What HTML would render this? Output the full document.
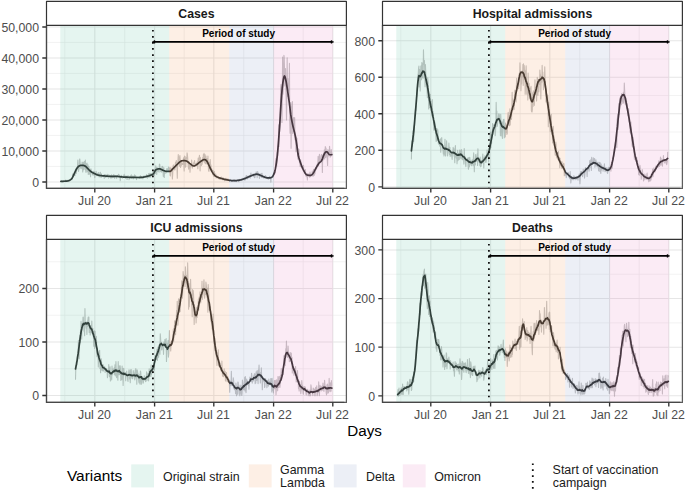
<!DOCTYPE html>
<html><head><meta charset="utf-8"><style>
html,body{margin:0;padding:0;background:#fff;width:685px;height:492px;overflow:hidden}
svg{display:block;font-family:"Liberation Sans",sans-serif}
</style></head><body>
<svg width="685" height="492" viewBox="0 0 685 492">
<rect width="685" height="492" fill="#fff"/>
<clipPath id="c00"><rect x="46.5" y="25.3" width="299.9" height="163.1"/></clipPath>
<rect x="46.5" y="25.3" width="299.9" height="163.1" fill="#fff"/>
<path d="M46.5,166.45H346.4M46.5,135.45H346.4M46.5,104.45H346.4M46.5,73.45H346.4M46.5,42.45H346.4M64.8,25.3V188.4M124.7,25.3V188.4M184.2,25.3V188.4M243.7,25.3V188.4M303.2,25.3V188.4" stroke="#ebebeb" stroke-width="0.6" fill="none"/>
<path d="M46.5,181.95H346.4M46.5,150.95H346.4M46.5,119.95H346.4M46.5,88.95H346.4M46.5,57.95H346.4M46.5,26.95H346.4M94.8,25.3V188.4M154.6,25.3V188.4M213.8,25.3V188.4M273.6,25.3V188.4M332.8,25.3V188.4" stroke="#e6e6e6" stroke-width="1.1" fill="none"/>
<g clip-path="url(#c00)">
<path d="M60.9,181.6 61.23,181.48 61.55,181 61.88,180.77 62.2,181.19 62.53,181.21 62.86,181.33 63.18,181.89 63.51,180.64 63.83,181.07 64.16,181.13 64.49,181.42 64.81,181.42 65.14,181.04 65.46,181.6 65.79,179.96 66.12,180.43 66.44,181.26 66.77,181.23 67.09,181 67.42,180.83 67.75,181 68.07,180.02 68.4,180.39 68.72,180.36 69.05,180.16 69.38,180.31 69.7,180.82 70.03,179.99 70.35,179.14 70.68,179.72 71.01,179.22 71.33,178.99 71.66,178.57 71.98,179.62 72.31,177.5 72.64,173.93 72.96,174.23 73.29,177.03 73.62,175.16 73.94,175.5 74.27,174.85 74.59,173.49 74.92,175.81 75.25,171.08 75.57,169.08 75.9,170.07 76.22,173.41 76.55,170.09 76.88,167.79 77.2,167.5 77.53,165.97 77.85,160.02 78.18,168.78 78.51,171.44 78.83,169.37 79.16,168.79 79.48,159.66 79.81,158.93 80.14,162.48 80.46,167.21 80.79,168.16 81.11,168.78 81.44,168.1 81.77,167.1 82.09,162.17 82.42,166.35 82.74,172.07 83.07,162.61 83.4,169.9 83.72,168.08 84.05,162.05 84.37,161.53 84.7,164.55 85.03,169.5 85.35,159.96 85.68,170.67 86,172.41 86.33,163.87 86.66,164.69 86.98,163.07 87.31,171.79 87.63,168.03 87.96,164.73 88.29,174.55 88.61,166.52 88.94,166.52 89.26,173.82 89.59,173.94 89.92,174.46 90.24,169.84 90.57,176.61 90.89,168.72 91.22,169.83 91.55,171.15 91.87,173.16 92.2,172.57 92.52,174.74 92.85,173.93 93.18,175.27 93.5,171.57 93.83,171.27 94.15,173.65 94.48,172.15 94.81,177.59 95.13,174.29 95.46,173.72 95.78,173.54 96.11,171.37 96.44,175.11 96.76,174.08 97.09,175.83 97.42,173.91 97.74,173.22 98.07,173.97 98.39,172.64 98.72,175.59 99.05,176.88 99.37,176.75 99.7,175.51 100.02,172.99 100.35,172.2 100.68,174.01 101,177.45 101.33,173.9 101.65,176.87 101.98,176.57 102.31,175.22 102.63,175.49 102.96,176.51 103.28,175.32 103.61,176.17 103.94,175.07 104.26,178.41 104.59,174.53 104.91,176.78 105.24,174.53 105.57,177.23 105.89,177.51 106.22,176.85 106.54,175.89 106.87,175.1 107.2,174.25 107.52,176.97 107.85,175.36 108.17,175.11 108.5,178.23 108.83,174.88 109.15,175.69 109.48,175.95 109.8,175.41 110.13,176.47 110.46,176.09 110.78,178.24 111.11,176.06 111.43,174.89 111.76,177.91 112.09,176.28 112.41,177.63 112.74,176.95 113.06,175.42 113.39,177.37 113.72,174.45 114.04,175.19 114.37,176.04 114.69,178.45 115.02,175.67 115.35,175.46 115.67,175.91 116,175.99 116.32,175.86 116.65,178.35 116.98,176.15 117.3,175.52 117.63,176.53 117.95,175.69 118.28,174.9 118.61,174.22 118.93,174.68 119.26,176.37 119.58,177.44 119.91,175.94 120.24,180.63 120.56,178.19 120.89,176.66 121.22,175.26 121.54,175.59 121.87,177.51 122.19,176.45 122.52,178.11 122.85,176.29 123.17,176.68 123.5,175.85 123.82,176.6 124.15,174.36 124.48,177.26 124.8,175.93 125.13,175.78 125.45,177.77 125.78,178.49 126.11,177.1 126.43,177.01 126.76,176.03 127.08,179.5 127.41,178.24 127.74,176.05 128.06,175.75 128.39,178.03 128.71,176.37 129.04,179.69 129.37,178.55 129.69,177.13 130.02,176.86 130.34,175.94 130.67,177.69 131,177.7 131.32,174.85 131.65,178.2 131.97,177.27 132.3,176.89 132.63,177.16 132.95,175.73 133.28,178.86 133.6,177.06 133.93,177.68 134.26,177.81 134.58,174.76 134.91,176.44 135.23,175.54 135.56,175.98 135.89,176.04 136.21,178.66 136.54,179.6 136.86,176.57 137.19,177.31 137.52,177.25 137.84,176.97 138.17,177.84 138.49,176.91 138.82,176.75 139.15,177.85 139.47,178.34 139.8,178.33 140.12,177.34 140.45,175.73 140.78,178.07 141.1,177.78 141.43,176.63 141.75,176.97 142.08,178.1 142.41,178.16 142.73,178.69 143.06,178.6 143.38,177.53 143.71,176.1 144.04,176.28 144.36,176.67 144.69,175.95 145.02,176.63 145.34,176.57 145.67,176.38 145.99,176.74 146.32,177.04 146.65,174.54 146.97,175.67 147.3,178.29 147.62,177.39 147.95,176.08 148.28,176.65 148.6,173.53 148.93,177.4 149.25,174.99 149.58,174.65 149.91,173.21 150.23,177.21 150.56,175.55 150.88,174.22 151.21,173.58 151.54,173.97 151.86,173.97 152.19,176.94 152.51,172.73 152.84,175.76 153.17,174.57 153.49,172.07 153.82,172.63 154.14,171.23 154.47,175.27 154.8,169.32 155.12,169.96 155.45,173.4 155.77,165.75 156.1,169.88 156.43,170.02 156.75,174.34 157.08,167.21 157.4,170.38 157.73,171.3 158.06,168.52 158.38,170.91 158.71,169.01 159.03,172.12 159.36,164.42 159.69,164.05 160.01,166.96 160.34,169.64 160.66,171.65 160.99,170.65 161.32,171.37 161.64,172.12 161.97,166.5 162.29,169.33 162.62,166.29 162.95,167.9 163.27,176.34 163.6,173.74 163.92,167.81 164.25,177.39 164.58,170.44 164.9,172.03 165.23,173.03 165.55,171.93 165.88,173.1 166.21,170.96 166.53,170.75 166.86,168.64 167.18,168.93 167.51,168.92 167.84,170.31 168.16,171.45 168.49,167.06 168.82,171.02 169.14,170.49 169.47,170.88 169.79,167.6 170.12,175.32 170.45,176.03 170.77,167.73 171.1,168.41 171.42,171.2 171.75,169.16 172.08,172.05 172.4,179.02 172.73,173.48 173.05,166.33 173.38,164.93 173.71,166.89 174.03,167.1 174.36,167.52 174.68,170 175.01,169.86 175.34,163.35 175.66,162.07 175.99,166.61 176.31,160.6 176.64,166.88 176.97,166.68 177.29,178.14 177.62,162.83 177.94,160.9 178.27,154.61 178.6,160.4 178.92,156.81 179.25,165.29 179.57,166.19 179.9,155.66 180.23,160.03 180.55,167.42 180.88,160.42 181.2,166.03 181.53,162.35 181.86,163.41 182.18,163.82 182.51,164.58 182.83,163.24 183.16,164.11 183.49,157.72 183.81,162.85 184.14,171.07 184.46,156.14 184.79,161.78 185.12,156.5 185.44,167.1 185.77,166.54 186.09,159.85 186.42,157.32 186.75,159.14 187.07,152.8 187.4,154.53 187.72,158.32 188.05,163.5 188.38,167.5 188.7,169.14 189.03,161.62 189.35,164.76 189.68,163.35 190.01,172.29 190.33,165.3 190.66,166.86 190.98,165.78 191.31,164.22 191.64,160.02 191.96,164.87 192.29,168.13 192.62,165.37 192.94,165.34 193.27,163.86 193.59,164.07 193.92,162.06 194.25,162.93 194.57,160.66 194.9,165.73 195.22,163.54 195.55,164.63 195.88,163.77 196.2,164.02 196.53,165.8 196.85,163.79 197.18,162.22 197.51,161.68 197.83,168.61 198.16,158.05 198.48,163.45 198.81,158.21 199.14,157.91 199.46,155.39 199.79,159.3 200.11,170.85 200.44,157.59 200.77,163.87 201.09,163.61 201.42,165.59 201.74,161.36 202.07,164.53 202.4,161.8 202.72,157.58 203.05,161.78 203.37,154.49 203.7,156.67 204.03,153.22 204.35,160.31 204.68,162.79 205,154.56 205.33,163.64 205.66,159.26 205.98,155.93 206.31,163.96 206.63,161.55 206.96,158.6 207.29,163.37 207.61,162.81 207.94,156.01 208.26,165.75 208.59,170.59 208.92,171.36 209.24,168.08 209.57,162.03 209.89,167.58 210.22,159.5 210.55,167.5 210.87,164.73 211.2,168.38 211.52,168.57 211.85,169.34 212.18,170.23 212.5,173.66 212.83,174.77 213.15,170.5 213.48,173.34 213.81,176.4 214.13,175.8 214.46,171.66 214.78,176.48 215.11,174.57 215.44,175.44 215.76,173.92 216.09,178 216.42,176.76 216.74,175.81 217.07,176.74 217.39,176.71 217.72,176.32 218.05,177.48 218.37,178.65 218.7,178.24 219.02,177.74 219.35,178.75 219.68,177.69 220,179.55 220.33,178.79 220.65,178.55 220.98,177.46 221.31,176.99 221.63,178.34 221.96,178.36 222.28,178.78 222.61,177.75 222.94,179.96 223.26,177.79 223.59,179.58 223.91,179.56 224.24,179.4 224.57,180.77 224.89,179.67 225.22,180.54 225.54,178.31 225.87,179.31 226.2,180.06 226.52,179.8 226.85,178.42 227.17,179.28 227.5,180.41 227.83,179.89 228.15,178.95 228.48,179.95 228.8,180.16 229.13,180.63 229.46,181.25 229.78,180.24 230.11,179.39 230.43,179.63 230.76,180.53 231.09,180.48 231.41,181.21 231.74,180.19 232.06,181.5 232.39,181.02 232.72,180.75 233.04,180.68 233.37,180.27 233.69,180.02 234.02,180.71 234.35,181.03 234.67,179.83 235,181.39 235.32,180.99 235.65,180.59 235.98,181 236.3,181.56 236.63,180.86 236.95,180.29 237.28,179.65 237.61,180.47 237.93,180.57 238.26,179.51 238.58,179.77 238.91,181.76 239.24,180.57 239.56,180.47 239.89,179.48 240.22,179.24 240.54,180.21 240.87,180.5 241.19,180.48 241.52,178.94 241.85,179.99 242.17,179.3 242.5,178.33 242.82,179.93 243.15,179.54 243.48,179.67 243.8,178.38 244.13,178.04 244.45,179.55 244.78,180.19 245.11,178.55 245.43,179.73 245.76,179.52 246.08,175.7 246.41,176.99 246.74,175.54 247.06,177.45 247.39,178.84 247.71,177.24 248.04,178.31 248.37,176.32 248.69,177.48 249.02,176.61 249.34,177.38 249.67,175.79 250,176.97 250.32,178.09 250.65,173.94 250.97,173.01 251.3,175.9 251.63,175 251.95,175.43 252.28,175.47 252.6,174.42 252.93,174.37 253.26,173.73 253.58,176.41 253.91,176.74 254.23,174.83 254.56,177.77 254.89,177.73 255.21,173.63 255.54,174.84 255.86,175.25 256.19,171.86 256.52,173.24 256.84,173.78 257.17,177.69 257.49,171.6 257.82,171.88 258.15,175.55 258.47,174.36 258.8,173.88 259.12,173.8 259.45,178.53 259.78,174.63 260.1,175.43 260.43,176.02 260.75,174.03 261.08,173.41 261.41,177.41 261.73,175.88 262.06,173.21 262.38,177.35 262.71,177.38 263.04,177.15 263.36,176.99 263.69,176.48 264.02,178.5 264.34,177.07 264.67,176.35 264.99,177.09 265.32,175.55 265.65,177.56 265.97,176.34 266.3,178.27 266.62,177.92 266.95,178.28 267.28,177.43 267.6,178.69 267.93,177.33 268.25,179.19 268.58,179.07 268.91,178.32 269.23,177.94 269.56,176.41 269.88,177.47 270.21,178.81 270.54,177.28 270.86,182.25 271.19,177.25 271.51,177.46 271.84,177.7 272.17,177.23 272.49,177.05 272.82,176.66 273.14,177.21 273.47,173.48 273.8,172.82 274.12,172.14 274.45,174.59 274.77,170.95 275.1,170.97 275.43,172.9 275.75,159.29 276.08,158.37 276.4,165.43 276.73,165.98 277.06,152.58 277.38,152.08 277.71,155.54 278.03,146 278.36,145.41 278.69,124.78 279.01,146.5 279.34,125.48 279.66,131.63 279.99,127.75 280.32,115.2 280.64,89.19 280.97,84.5 281.29,102.39 281.62,101.6 281.95,122.5 282.27,98.78 282.6,56.93 282.92,94.28 283.25,88.9 283.58,75.64 283.9,55.42 284.23,57.66 284.55,71.38 284.88,86.06 285.21,73.58 285.53,68.58 285.86,87.63 286.18,99.03 286.51,120 286.84,96.82 287.16,57.69 287.49,96.56 287.82,78.41 288.14,85.8 288.47,90.84 288.79,83.42 289.12,88.38 289.45,63.41 289.77,122.2 290.1,133.23 290.42,124.15 290.75,102.48 291.08,148.28 291.4,124.29 291.73,107.29 292.05,106.05 292.38,101.63 292.71,133.7 293.03,129.82 293.36,117.68 293.68,131.43 294.01,117.59 294.34,127.11 294.66,117.78 294.99,139.62 295.31,134.43 295.64,135.57 295.97,151.73 296.29,137.04 296.62,138.95 296.94,138.54 297.27,145.35 297.6,155.41 297.92,158.97 298.25,148.75 298.57,156.08 298.9,149.18 299.23,158.65 299.55,163.23 299.88,163.6 300.2,166.62 300.53,159.68 300.86,161.89 301.18,166.34 301.51,165.05 301.83,167.19 302.16,168.21 302.49,167.2 302.81,167.22 303.14,168.4 303.46,165.28 303.79,170.59 304.12,169.52 304.44,171.2 304.77,172.21 305.09,172.99 305.42,169.46 305.75,175.98 306.07,174.1 306.4,174.74 306.72,177 307.05,175.01 307.38,179.96 307.7,173.54 308.03,176.38 308.35,174.17 308.68,174.58 309.01,174.04 309.33,176.81 309.66,177.19 309.98,172.16 310.31,176.72 310.64,174.1 310.96,173.91 311.29,175.93 311.62,175.75 311.94,174.52 312.27,171.14 312.59,176.02 312.92,173.29 313.25,176.3 313.57,169.34 313.9,172.23 314.22,175.33 314.55,172.55 314.88,173.98 315.2,170.46 315.53,167.6 315.85,169.61 316.18,169.13 316.51,168.73 316.83,167.64 317.16,164.17 317.48,164.95 317.81,163.3 318.14,156.22 318.46,165.88 318.79,161.57 319.11,160.17 319.44,154.35 319.77,160.58 320.09,162.7 320.42,159.74 320.74,159.71 321.07,155.65 321.4,154.75 321.72,154.47 322.05,155.26 322.37,172.54 322.7,155.38 323.03,160.23 323.35,158.68 323.68,152.91 324,157.6 324.33,149.79 324.66,159.05 324.98,152.25 325.31,146.46 325.63,157.55 325.96,147.94 326.29,150.65 326.61,155.06 326.94,156.81 327.26,158.74 327.59,165.48 327.92,149.6 328.24,153.36 328.57,155.89 328.89,150.73 329.22,153.03 329.55,146.38 329.87,151.48 330.2,157.13 330.52,154.69 330.85,156.4 331.18,149.43 331.5,152.09 331.83,154.61" stroke="#999" stroke-opacity="0.6" stroke-width="1.1" fill="none" stroke-linejoin="round"/>
<path d="M60.9,181.3 61.23,181.3 61.55,181.29 61.88,181.29 62.2,181.29 62.53,181.29 62.86,181.29 63.18,181.28 63.51,181.27 63.83,181.26 64.16,181.25 64.49,181.24 64.81,181.21 65.14,181.19 65.46,181.16 65.79,181.14 66.12,181.12 66.44,181.1 66.77,181.07 67.09,181.04 67.42,181 67.75,180.95 68.07,180.89 68.4,180.81 68.72,180.71 69.05,180.58 69.38,180.43 69.7,180.27 70.03,180.1 70.35,179.9 70.68,179.66 71.01,179.38 71.33,179.04 71.66,178.66 71.98,178.22 72.31,177.71 72.64,177.12 72.96,176.47 73.29,175.77 73.62,175.04 73.94,174.3 74.27,173.56 74.59,172.84 74.92,172.16 75.25,171.52 75.57,170.87 75.9,170.23 76.22,169.59 76.55,168.99 76.88,168.42 77.2,167.91 77.53,167.47 77.85,167.08 78.18,166.74 78.51,166.45 78.83,166.2 79.16,166 79.48,165.82 79.81,165.68 80.14,165.55 80.46,165.46 80.79,165.4 81.11,165.35 81.44,165.33 81.77,165.32 82.09,165.33 82.42,165.34 82.74,165.37 83.07,165.41 83.4,165.46 83.72,165.52 84.05,165.61 84.37,165.72 84.7,165.85 85.03,166.01 85.35,166.2 85.68,166.43 86,166.71 86.33,167.02 86.66,167.36 86.98,167.72 87.31,168.08 87.63,168.43 87.96,168.76 88.29,169.08 88.61,169.41 88.94,169.75 89.26,170.08 89.59,170.4 89.92,170.71 90.24,171 90.57,171.27 90.89,171.52 91.22,171.75 91.55,171.97 91.87,172.17 92.2,172.36 92.52,172.55 92.85,172.72 93.18,172.9 93.5,173.06 93.83,173.23 94.15,173.39 94.48,173.55 94.81,173.71 95.13,173.87 95.46,174.03 95.78,174.19 96.11,174.36 96.44,174.51 96.76,174.66 97.09,174.79 97.42,174.91 97.74,175.01 98.07,175.1 98.39,175.17 98.72,175.24 99.05,175.31 99.37,175.37 99.7,175.42 100.02,175.47 100.35,175.51 100.68,175.56 101,175.6 101.33,175.64 101.65,175.67 101.98,175.71 102.31,175.74 102.63,175.78 102.96,175.81 103.28,175.84 103.61,175.87 103.94,175.9 104.26,175.93 104.59,175.96 104.91,175.99 105.24,176.02 105.57,176.05 105.89,176.08 106.22,176.1 106.54,176.13 106.87,176.15 107.2,176.17 107.52,176.19 107.85,176.22 108.17,176.23 108.5,176.25 108.83,176.27 109.15,176.29 109.48,176.31 109.8,176.32 110.13,176.34 110.46,176.35 110.78,176.37 111.11,176.38 111.43,176.39 111.76,176.4 112.09,176.41 112.41,176.41 112.74,176.42 113.06,176.41 113.39,176.41 113.72,176.4 114.04,176.4 114.37,176.39 114.69,176.38 115.02,176.37 115.35,176.37 115.67,176.37 116,176.37 116.32,176.37 116.65,176.38 116.98,176.4 117.3,176.42 117.63,176.45 117.95,176.47 118.28,176.51 118.61,176.55 118.93,176.59 119.26,176.63 119.58,176.67 119.91,176.71 120.24,176.76 120.56,176.8 120.89,176.84 121.22,176.87 121.54,176.91 121.87,176.94 122.19,176.97 122.52,176.99 122.85,177.02 123.17,177.04 123.5,177.06 123.82,177.07 124.15,177.09 124.48,177.11 124.8,177.12 125.13,177.13 125.45,177.15 125.78,177.16 126.11,177.17 126.43,177.18 126.76,177.2 127.08,177.21 127.41,177.22 127.74,177.23 128.06,177.24 128.39,177.25 128.71,177.26 129.04,177.27 129.37,177.28 129.69,177.29 130.02,177.3 130.34,177.31 130.67,177.32 131,177.33 131.32,177.34 131.65,177.36 131.97,177.37 132.3,177.38 132.63,177.39 132.95,177.4 133.28,177.41 133.6,177.42 133.93,177.43 134.26,177.44 134.58,177.45 134.91,177.46 135.23,177.47 135.56,177.47 135.89,177.48 136.21,177.49 136.54,177.49 136.86,177.5 137.19,177.5 137.52,177.5 137.84,177.5 138.17,177.5 138.49,177.49 138.82,177.49 139.15,177.48 139.47,177.47 139.8,177.46 140.12,177.45 140.45,177.43 140.78,177.41 141.1,177.39 141.43,177.36 141.75,177.34 142.08,177.3 142.41,177.27 142.73,177.23 143.06,177.19 143.38,177.15 143.71,177.09 144.04,177.04 144.36,176.97 144.69,176.9 145.02,176.82 145.34,176.74 145.67,176.66 145.99,176.58 146.32,176.49 146.65,176.41 146.97,176.34 147.3,176.26 147.62,176.18 147.95,176.11 148.28,176.03 148.6,175.95 148.93,175.86 149.25,175.76 149.58,175.65 149.91,175.54 150.23,175.41 150.56,175.29 150.88,175.16 151.21,175.03 151.54,174.9 151.86,174.75 152.19,174.59 152.51,174.4 152.84,174.18 153.17,173.92 153.49,173.59 153.82,173.15 154.14,172.61 154.47,171.98 154.8,171.34 155.12,170.74 155.45,170.27 155.77,169.92 156.1,169.66 156.43,169.47 156.75,169.33 157.08,169.22 157.4,169.13 157.73,169.04 158.06,168.95 158.38,168.89 158.71,168.84 159.03,168.82 159.36,168.82 159.69,168.85 160.01,168.9 160.34,169 160.66,169.13 160.99,169.28 161.32,169.44 161.64,169.62 161.97,169.8 162.29,169.97 162.62,170.13 162.95,170.28 163.27,170.41 163.6,170.54 163.92,170.67 164.25,170.8 164.58,170.91 164.9,171.02 165.23,171.12 165.55,171.21 165.88,171.28 166.21,171.33 166.53,171.36 166.86,171.37 167.18,171.38 167.51,171.37 167.84,171.36 168.16,171.34 168.49,171.32 168.82,171.31 169.14,171.3 169.47,171.36 169.79,171.45 170.12,171.41 170.45,171.24 170.77,170.98 171.1,170.68 171.42,170.35 171.75,170 172.08,169.64 172.4,169.28 172.73,168.92 173.05,168.57 173.38,168.22 173.71,167.89 174.03,167.56 174.36,167.23 174.68,166.9 175.01,166.57 175.34,166.24 175.66,165.91 175.99,165.59 176.31,165.27 176.64,164.95 176.97,164.63 177.29,164.32 177.62,164 177.94,163.67 178.27,163.35 178.6,163.03 178.92,162.72 179.25,162.41 179.57,162.12 179.9,161.84 180.23,161.59 180.55,161.37 180.88,161.18 181.2,161.02 181.53,160.9 181.86,160.81 182.18,160.76 182.51,160.73 182.83,160.71 183.16,160.7 183.49,160.68 183.81,160.67 184.14,160.67 184.46,160.68 184.79,160.69 185.12,160.72 185.44,160.77 185.77,160.84 186.09,160.92 186.42,161.03 186.75,161.17 187.07,161.35 187.4,161.55 187.72,161.79 188.05,162.04 188.38,162.31 188.7,162.58 189.03,162.86 189.35,163.13 189.68,163.39 190.01,163.63 190.33,163.87 190.66,164.12 190.98,164.38 191.31,164.65 191.64,164.92 191.96,165.17 192.29,165.41 192.62,165.61 192.94,165.78 193.27,165.91 193.59,165.98 193.92,166 194.25,165.96 194.57,165.86 194.9,165.73 195.22,165.56 195.55,165.36 195.88,165.14 196.2,164.91 196.53,164.67 196.85,164.44 197.18,164.21 197.51,163.99 197.83,163.74 198.16,163.48 198.48,163.2 198.81,162.92 199.14,162.64 199.46,162.36 199.79,162.08 200.11,161.82 200.44,161.58 200.77,161.36 201.09,161.14 201.42,160.92 201.74,160.71 202.07,160.5 202.4,160.3 202.72,160.11 203.05,159.94 203.37,159.8 203.7,159.69 204.03,159.62 204.35,159.6 204.68,159.62 205,159.68 205.33,159.8 205.66,159.98 205.98,160.22 206.31,160.53 206.63,160.89 206.96,161.32 207.29,161.85 207.61,162.45 207.94,163.12 208.26,163.82 208.59,164.55 208.92,165.27 209.24,165.97 209.57,166.65 209.89,167.34 210.22,168.06 210.55,168.79 210.87,169.49 211.2,170.16 211.52,170.79 211.85,171.35 212.18,171.88 212.5,172.4 212.83,172.9 213.15,173.39 213.48,173.85 213.81,174.28 214.13,174.68 214.46,175.05 214.78,175.38 215.11,175.68 215.44,175.95 215.76,176.19 216.09,176.4 216.42,176.6 216.74,176.78 217.07,176.94 217.39,177.09 217.72,177.23 218.05,177.36 218.37,177.49 218.7,177.6 219.02,177.72 219.35,177.83 219.68,177.94 220,178.04 220.33,178.15 220.65,178.25 220.98,178.36 221.31,178.46 221.63,178.56 221.96,178.65 222.28,178.74 222.61,178.83 222.94,178.92 223.26,179.01 223.59,179.09 223.91,179.17 224.24,179.25 224.57,179.33 224.89,179.4 225.22,179.47 225.54,179.55 225.87,179.62 226.2,179.69 226.52,179.75 226.85,179.82 227.17,179.88 227.5,179.94 227.83,180 228.15,180.06 228.48,180.12 228.8,180.18 229.13,180.23 229.46,180.29 229.78,180.34 230.11,180.38 230.43,180.43 230.76,180.47 231.09,180.51 231.41,180.55 231.74,180.58 232.06,180.61 232.39,180.64 232.72,180.66 233.04,180.68 233.37,180.69 233.69,180.7 234.02,180.7 234.35,180.7 234.67,180.69 235,180.68 235.32,180.66 235.65,180.64 235.98,180.61 236.3,180.59 236.63,180.55 236.95,180.52 237.28,180.48 237.61,180.44 237.93,180.39 238.26,180.34 238.58,180.29 238.91,180.23 239.24,180.17 239.56,180.11 239.89,180.04 240.22,179.97 240.54,179.9 240.87,179.82 241.19,179.73 241.52,179.64 241.85,179.54 242.17,179.44 242.5,179.34 242.82,179.22 243.15,179.11 243.48,178.99 243.8,178.87 244.13,178.75 244.45,178.62 244.78,178.5 245.11,178.37 245.43,178.25 245.76,178.12 246.08,177.98 246.41,177.84 246.74,177.69 247.06,177.54 247.39,177.39 247.71,177.24 248.04,177.09 248.37,176.94 248.69,176.79 249.02,176.64 249.34,176.5 249.67,176.36 250,176.23 250.32,176.1 250.65,175.98 250.97,175.86 251.3,175.74 251.63,175.62 251.95,175.5 252.28,175.38 252.6,175.26 252.93,175.14 253.26,175.02 253.58,174.91 253.91,174.8 254.23,174.7 254.56,174.6 254.89,174.51 255.21,174.43 255.54,174.36 255.86,174.3 256.19,174.25 256.52,174.21 256.84,174.2 257.17,174.21 257.49,174.24 257.82,174.29 258.15,174.37 258.47,174.48 258.8,174.6 259.12,174.73 259.45,174.88 259.78,175.03 260.1,175.18 260.43,175.33 260.75,175.47 261.08,175.59 261.41,175.72 261.73,175.85 262.06,175.98 262.38,176.12 262.71,176.27 263.04,176.42 263.36,176.56 263.69,176.71 264.02,176.85 264.34,176.99 264.67,177.13 264.99,177.25 265.32,177.38 265.65,177.49 265.97,177.59 266.3,177.67 266.62,177.75 266.95,177.81 267.28,177.86 267.6,177.9 267.93,177.94 268.25,177.96 268.58,177.97 268.91,177.97 269.23,177.96 269.56,177.93 269.88,177.89 270.21,177.83 270.54,177.75 270.86,177.64 271.19,177.5 271.51,177.33 271.84,177.11 272.17,176.82 272.49,176.46 272.82,176.02 273.14,175.5 273.47,174.9 273.8,174.21 274.12,173.39 274.45,172.43 274.77,171.3 275.1,170 275.43,168.5 275.75,166.79 276.08,164.9 276.4,162.82 276.73,160.52 277.06,157.96 277.38,154.99 277.71,151.45 278.03,147.58 278.36,143.48 278.69,139.2 279.01,134.78 279.34,130.23 279.66,125.52 279.99,120.43 280.32,114.8 280.64,109.11 280.97,103.99 281.29,99.32 281.62,94.98 281.95,91.07 282.27,87.68 282.6,84.78 282.92,82.34 283.25,80.28 283.58,78.54 283.9,77.13 284.23,76.25 284.55,76.02 284.88,76.47 285.21,77.46 285.53,78.79 285.86,80.28 286.18,81.93 286.51,83.78 286.84,85.77 287.16,87.85 287.49,89.99 287.82,92.2 288.14,94.45 288.47,96.75 288.79,99.08 289.12,101.44 289.45,103.84 289.77,106.35 290.1,109.21 290.42,112.2 290.75,114.66 291.08,116.7 291.4,118.54 291.73,120.27 292.05,121.91 292.38,123.49 292.71,125.02 293.03,126.46 293.36,127.81 293.68,129.1 294.01,130.38 294.34,131.68 294.66,133.02 294.99,134.47 295.31,136.08 295.64,137.83 295.97,139.72 296.29,141.73 296.62,143.82 296.94,145.99 297.27,148.56 297.6,151.24 297.92,153.5 298.25,155.22 298.57,156.6 298.9,157.81 299.23,158.91 299.55,159.93 299.88,160.91 300.2,161.86 300.53,162.8 300.86,163.73 301.18,164.63 301.51,165.5 301.83,166.33 302.16,167.14 302.49,167.91 302.81,168.66 303.14,169.36 303.46,170.03 303.79,170.68 304.12,171.31 304.44,171.91 304.77,172.47 305.09,172.99 305.42,173.47 305.75,173.9 306.07,174.27 306.4,174.57 306.72,174.79 307.05,174.95 307.38,175.06 307.7,175.14 308.03,175.19 308.35,175.24 308.68,175.28 309.01,175.34 309.33,175.39 309.66,175.44 309.98,175.46 310.31,175.44 310.64,175.38 310.96,175.26 311.29,175.09 311.62,174.88 311.94,174.62 312.27,174.31 312.59,173.96 312.92,173.56 313.25,173.12 313.57,172.64 313.9,172.09 314.22,171.5 314.55,170.87 314.88,170.23 315.2,169.59 315.53,168.96 315.85,168.34 316.18,167.76 316.51,167.19 316.83,166.61 317.16,166.04 317.48,165.48 317.81,164.94 318.14,164.42 318.46,163.92 318.79,163.45 319.11,163.04 319.44,162.69 319.77,162.39 320.09,162.13 320.42,161.87 320.74,161.59 321.07,161.28 321.4,160.9 321.72,160.38 322.05,159.71 322.37,158.86 322.7,157.91 323.03,156.95 323.35,156.11 323.68,155.38 324,154.67 324.33,153.98 324.66,153.36 324.98,152.82 325.31,152.39 325.63,152.09 325.96,151.9 326.29,151.8 326.61,151.79 326.94,151.84 327.26,152 327.59,152.35 327.92,152.85 328.24,153.37 328.57,153.77 328.89,154.12 329.22,154.41 329.55,154.61 329.87,154.72 330.2,154.76 330.52,154.77 330.85,154.77 331.18,154.75 331.5,154.73 331.83,154.71" stroke="#262626" stroke-width="1.7" fill="none" stroke-linejoin="round" stroke-linecap="round"/>
</g>
<rect x="60.3" y="25.3" width="108.9" height="163.1" fill="#66C2A5" fill-opacity="0.17"/>
<rect x="169.2" y="25.3" width="60" height="163.1" fill="#F3A166" fill-opacity="0.17"/>
<rect x="229.2" y="25.3" width="44.5" height="163.1" fill="#8DA0CB" fill-opacity="0.17"/>
<rect x="273.7" y="25.3" width="59.1" height="163.1" fill="#E78AC3" fill-opacity="0.17"/>
<path d="M152.9,29.9V188.4" stroke="#111" stroke-width="1.8" stroke-dasharray="1.7 4.37" fill="none"/>
<path d="M153.9,41.9H331.3" stroke="#000" stroke-width="1.7" fill="none"/>
<path d="M333.8,41.9l-2.8,-1.6v3.2z" fill="#000" stroke="#000" stroke-width="0.4" stroke-linejoin="round"/>
<path d="M152.1,41.9l2.8,-1.6v3.2z" fill="#000" stroke="#000" stroke-width="0.4" stroke-linejoin="round"/>
<text x="238.6" y="36.6" font-family="Liberation Sans, sans-serif" font-size="10" font-weight="bold" fill="#000" text-anchor="middle">Period of study</text>
<rect x="46.5" y="25.3" width="299.9" height="163.1" fill="none" stroke="#5c5c5c" stroke-width="1.25" stroke-linejoin="round"/>
<path d="M46.5,25.3V188.4H344.4" fill="none" stroke="#474747" stroke-width="1.2"/>
<rect x="46.5" y="1.4" width="299.9" height="23.9" fill="#fff" stroke="#333" stroke-width="1.2" stroke-linejoin="round"/>
<text x="196.45" y="18.1" font-family="Liberation Sans, sans-serif" font-size="12.3" font-weight="bold" fill="#1a1a1a" text-anchor="middle">Cases</text>
<text x="39" y="186.75" font-family="Liberation Sans, sans-serif" font-size="12.3" fill="#4d4d4d" text-anchor="end">0</text>
<text x="39" y="155.75" font-family="Liberation Sans, sans-serif" font-size="12.3" fill="#4d4d4d" text-anchor="end">10,000</text>
<text x="39" y="124.75" font-family="Liberation Sans, sans-serif" font-size="12.3" fill="#4d4d4d" text-anchor="end">20,000</text>
<text x="39" y="93.75" font-family="Liberation Sans, sans-serif" font-size="12.3" fill="#4d4d4d" text-anchor="end">30,000</text>
<text x="39" y="62.75" font-family="Liberation Sans, sans-serif" font-size="12.3" fill="#4d4d4d" text-anchor="end">40,000</text>
<text x="39" y="31.75" font-family="Liberation Sans, sans-serif" font-size="12.3" fill="#4d4d4d" text-anchor="end">50,000</text>
<text x="94.5" y="204.9" font-family="Liberation Sans, sans-serif" font-size="12.3" fill="#4d4d4d" text-anchor="middle">Jul 20</text>
<text x="154.3" y="204.9" font-family="Liberation Sans, sans-serif" font-size="12.3" fill="#4d4d4d" text-anchor="middle">Jan 21</text>
<text x="213.5" y="204.9" font-family="Liberation Sans, sans-serif" font-size="12.3" fill="#4d4d4d" text-anchor="middle">Jul 21</text>
<text x="273.3" y="204.9" font-family="Liberation Sans, sans-serif" font-size="12.3" fill="#4d4d4d" text-anchor="middle">Jan 22</text>
<text x="332.5" y="204.9" font-family="Liberation Sans, sans-serif" font-size="12.3" fill="#4d4d4d" text-anchor="middle">Jul 22</text>
<path d="M42.3,181.95H46.5M42.3,150.95H46.5M42.3,119.95H46.5M42.3,88.95H46.5M42.3,57.95H46.5M42.3,26.95H46.5M94.8,188.4V192.6M154.6,188.4V192.6M213.8,188.4V192.6M273.6,188.4V192.6M332.8,188.4V192.6" stroke="#333" stroke-width="1.35" fill="none"/>
<clipPath id="c10"><rect x="382.5" y="25.3" width="299.9" height="163.1"/></clipPath>
<rect x="382.5" y="25.3" width="299.9" height="163.1" fill="#fff"/>
<path d="M382.5,168.54H682.4M382.5,132.03H682.4M382.5,95.52H682.4M382.5,59.01H682.4M400.8,25.3V188.4M460.7,25.3V188.4M520.2,25.3V188.4M579.7,25.3V188.4M639.2,25.3V188.4" stroke="#ebebeb" stroke-width="0.6" fill="none"/>
<path d="M382.5,186.8H682.4M382.5,150.29H682.4M382.5,113.78H682.4M382.5,77.26H682.4M382.5,40.75H682.4M430.8,25.3V188.4M490.6,25.3V188.4M549.8,25.3V188.4M609.6,25.3V188.4M668.8,25.3V188.4" stroke="#e6e6e6" stroke-width="1.1" fill="none"/>
<g clip-path="url(#c10)">
<path d="M411.4,159.49 411.73,140.94 412.05,141.68 412.38,146.33 412.7,141.31 413.03,130.84 413.36,141.31 413.68,141.4 414.01,125.81 414.33,131.84 414.66,119.89 414.99,113.22 415.31,110.18 415.64,108.16 415.96,110.51 416.29,102.83 416.62,93.73 416.94,96.21 417.27,91.33 417.59,85.91 417.92,75.12 418.25,73.69 418.57,68.64 418.9,66.09 419.22,87.06 419.55,69.51 419.88,72.4 420.2,90.92 420.53,79.99 420.85,65.97 421.18,65.91 421.51,79.71 421.83,62.46 422.16,62.94 422.48,77.64 422.81,72.18 423.14,78.24 423.46,49.85 423.79,63.68 424.12,64.37 424.44,60.52 424.77,73.02 425.09,86.64 425.42,64.49 425.75,72.25 426.07,79.75 426.4,85.33 426.72,85.15 427.05,89.2 427.38,97.59 427.7,77.73 428.03,81.92 428.35,87.85 428.68,108.95 429.01,96.88 429.33,107.79 429.66,107.44 429.98,107.18 430.31,94.26 430.64,105.46 430.96,100.99 431.29,110.85 431.61,110.7 431.94,116.01 432.27,99.48 432.59,117.47 432.92,111.13 433.24,114.95 433.57,124.13 433.9,130.21 434.22,129.51 434.55,126.61 434.87,122.14 435.2,130.59 435.53,126.65 435.85,135.4 436.18,141.4 436.5,135.35 436.83,128.35 437.16,140.52 437.48,131.54 437.81,129.71 438.13,139.19 438.46,144.03 438.79,143.67 439.11,144.39 439.44,143.01 439.76,146.18 440.09,141.99 440.42,138.85 440.74,152.28 441.07,142.99 441.39,139.98 441.72,137.48 442.05,144.18 442.37,144.14 442.7,146.9 443.02,150.58 443.35,154.04 443.68,149.16 444,155.86 444.33,153.32 444.65,147.96 444.98,139.22 445.31,154.14 445.63,156.08 445.96,146.02 446.28,148.78 446.61,140.82 446.94,148.27 447.26,149.79 447.59,155.93 447.92,151.2 448.24,149.44 448.57,151.09 448.89,143.04 449.22,152.69 449.55,154.58 449.87,147.32 450.2,156.56 450.52,152.47 450.85,152.08 451.18,153.15 451.5,156.01 451.83,156.54 452.15,159.36 452.48,153.16 452.81,154.22 453.13,147.24 453.46,150.06 453.78,148.43 454.11,156.29 454.44,153.12 454.76,162.76 455.09,148.74 455.41,145.46 455.74,156.93 456.07,153.63 456.39,158.17 456.72,156.08 457.04,163.67 457.37,155.52 457.7,150.42 458.02,160.64 458.35,157.93 458.67,153.64 459,159.56 459.33,159.5 459.65,150 459.98,156.86 460.3,150.86 460.63,156.67 460.96,158.73 461.28,149.5 461.61,150.48 461.93,151.71 462.26,159.62 462.59,159.59 462.91,157.87 463.24,156.73 463.56,158.6 463.89,164.08 464.22,148.54 464.54,155.52 464.87,156.47 465.19,158.66 465.52,164 465.85,166.64 466.17,159.84 466.5,161.1 466.82,159.81 467.15,158.6 467.48,159.18 467.8,157.96 468.13,166.13 468.45,169.3 468.78,157.64 469.11,166.87 469.43,166.84 469.76,157.25 470.08,160.09 470.41,164.01 470.74,160.87 471.06,164.85 471.39,165.73 471.72,164.14 472.04,160 472.37,163.11 472.69,159.85 473.02,165.75 473.35,158.9 473.67,152.91 474,158.74 474.32,171.82 474.65,160.26 474.98,162.54 475.3,164.96 475.63,154.46 475.95,160.98 476.28,161.45 476.61,159.93 476.93,157.38 477.26,153.89 477.58,165.45 477.91,148.79 478.24,161.92 478.56,159.69 478.89,159.47 479.21,159.69 479.54,162.42 479.87,165.59 480.19,157.17 480.52,166.77 480.84,160.21 481.17,166.24 481.5,160.77 481.82,162.58 482.15,163.23 482.47,157.81 482.8,154.15 483.13,162.51 483.45,160.07 483.78,167.91 484.1,157.83 484.43,159.33 484.76,157.31 485.08,155.59 485.41,159.49 485.73,162.56 486.06,162.1 486.39,159.91 486.71,158.49 487.04,150.03 487.36,154.26 487.69,153.89 488.02,154.48 488.34,156.53 488.67,162.01 488.99,156.79 489.32,143.94 489.65,150.32 489.97,145.16 490.3,132.08 490.62,144.87 490.95,147.74 491.28,134.94 491.6,143.21 491.93,131.6 492.25,132.85 492.58,123.6 492.91,134.27 493.23,126.04 493.56,131.87 493.88,124.84 494.21,129.14 494.54,125.16 494.86,128.26 495.19,135.76 495.52,131.32 495.84,125.6 496.17,102.41 496.49,116.27 496.82,110.99 497.15,126.45 497.47,124.95 497.8,120.5 498.12,119.51 498.45,115.65 498.78,113.82 499.1,113.92 499.43,115.6 499.75,123.73 500.08,120.18 500.41,135.62 500.73,114.4 501.06,123.35 501.38,125.37 501.71,136 502.04,121.75 502.36,138.34 502.69,138.27 503.01,126.77 503.34,119.65 503.67,119.92 503.99,119.2 504.32,129.78 504.64,137.65 504.97,125.35 505.3,136.78 505.62,122.98 505.95,132.51 506.27,124.34 506.6,130.95 506.93,134.42 507.25,133.54 507.58,121.61 507.9,114.9 508.23,112.26 508.56,117.97 508.88,120.26 509.21,121.61 509.53,125.75 509.86,108.91 510.19,125.06 510.51,119.54 510.84,113.11 511.16,117.56 511.49,119.45 511.82,109.24 512.14,92.33 512.47,107.55 512.79,98.55 513.12,109.84 513.45,103.65 513.77,107.29 514.1,109.44 514.42,100.21 514.75,91.18 515.08,89.93 515.4,90.45 515.73,97.93 516.05,102.04 516.38,86.34 516.71,78.29 517.03,82.84 517.36,85.08 517.68,85.26 518.01,84.55 518.34,88.09 518.66,88.79 518.99,81.03 519.32,73.31 519.64,76.16 519.97,62.78 520.29,73.54 520.62,72.79 520.95,90.79 521.27,81.6 521.6,84.04 521.92,72.52 522.25,70.47 522.58,76.43 522.9,64.64 523.23,85.38 523.55,63.83 523.88,79.98 524.21,65.5 524.53,72.45 524.86,70.57 525.18,94.23 525.51,86.39 525.84,73.69 526.16,65.87 526.49,81.8 526.81,94.19 527.14,90.43 527.47,85.54 527.79,99.93 528.12,72.94 528.44,90.85 528.77,94.91 529.1,83.25 529.42,98.48 529.75,98.87 530.07,98.54 530.4,88.03 530.73,94.98 531.05,86.34 531.38,110.32 531.7,111.81 532.03,111.94 532.36,109.55 532.68,92.8 533.01,106.52 533.33,90.8 533.66,97.32 533.99,93.81 534.31,105.33 534.64,94.15 534.96,79.75 535.29,94.72 535.62,89.01 535.94,92.8 536.27,91.57 536.59,100.99 536.92,91.04 537.25,77.38 537.57,79.25 537.9,95.28 538.22,79.39 538.55,85.77 538.88,91.63 539.2,80.74 539.53,84.38 539.85,69.93 540.18,74.67 540.51,74.81 540.83,99.02 541.16,79.52 541.48,77.49 541.81,82.2 542.14,65.28 542.46,74.34 542.79,72.1 543.12,79.24 543.44,89.8 543.77,77.76 544.09,87.07 544.42,83.05 544.75,66.78 545.07,79.2 545.4,88.09 545.72,88.48 546.05,102.07 546.38,90.23 546.7,94.94 547.03,95.08 547.35,104.96 547.68,95.08 548.01,103.86 548.33,126.67 548.66,102.15 548.98,107.91 549.31,115.58 549.64,112.57 549.96,120.33 550.29,131.65 550.61,118.43 550.94,129.8 551.27,114.34 551.59,129.6 551.92,134.19 552.24,129.74 552.57,142.9 552.9,138.74 553.22,126.18 553.55,135.82 553.87,135.86 554.2,141.13 554.53,148.31 554.85,145.49 555.18,155.01 555.5,155.24 555.83,142.13 556.16,145.48 556.48,156.12 556.81,157.97 557.13,153.25 557.46,152.36 557.79,154.93 558.11,159.42 558.44,151.58 558.76,160.43 559.09,157.61 559.42,158.31 559.74,167.63 560.07,158.31 560.39,161.97 560.72,165.1 561.05,161.65 561.37,163.62 561.7,168.32 562.02,161.89 562.35,168.09 562.68,164.45 563,166.36 563.33,167.19 563.65,163.21 563.98,164.34 564.31,175.68 564.63,168.84 564.96,173.11 565.28,175.18 565.61,173.49 565.94,172.54 566.26,177.59 566.59,176 566.92,172.91 567.24,174.28 567.57,174.18 567.89,172.49 568.22,172.49 568.55,175.23 568.87,177.18 569.2,176.23 569.52,178.04 569.85,178.78 570.18,171.55 570.5,175.53 570.83,182.99 571.15,179.62 571.48,176.57 571.81,178.88 572.13,176.89 572.46,179.64 572.78,179.31 573.11,178.55 573.44,179.8 573.76,175.71 574.09,177.59 574.41,176.33 574.74,177.62 575.07,179.76 575.39,178.97 575.72,177.17 576.04,176.55 576.37,176.67 576.7,179.23 577.02,176.5 577.35,177.17 577.67,177.69 578,180.23 578.33,177.5 578.65,175.31 578.98,176.69 579.3,173.82 579.63,177.54 579.96,183.63 580.28,178.46 580.61,172.24 580.93,171.56 581.26,171.81 581.59,171.64 581.91,174.41 582.24,174.47 582.56,176.7 582.89,173.09 583.22,169.36 583.54,171.39 583.87,171.98 584.19,172.61 584.52,178.09 584.85,175.21 585.17,169.45 585.5,167.46 585.82,168.9 586.15,168.48 586.48,168.6 586.8,171.15 587.13,176.52 587.45,167.77 587.78,169.98 588.11,167.6 588.43,169.03 588.76,166.77 589.08,171.1 589.41,166.66 589.74,160.58 590.06,161.54 590.39,161.05 590.72,167.49 591.04,159.24 591.37,170.55 591.69,157.29 592.02,164.22 592.35,164.5 592.67,164.31 593,161.19 593.32,157.83 593.65,162.07 593.98,163.81 594.3,160.01 594.63,158.48 594.95,167.13 595.28,163.26 595.61,163.47 595.93,159.86 596.26,165.63 596.58,165.31 596.91,161.95 597.24,167.07 597.56,162.89 597.89,166.22 598.21,162.38 598.54,170.55 598.87,165.01 599.19,171.55 599.52,162.28 599.84,163.92 600.17,162.85 600.5,170.71 600.82,173.36 601.15,164.03 601.47,170.11 601.8,167.04 602.13,165.93 602.45,168.16 602.78,167.63 603.1,171.29 603.43,167.1 603.76,167.94 604.08,166.84 604.41,163.77 604.73,168.18 605.06,171.77 605.39,168.88 605.71,167.57 606.04,171.01 606.36,167.73 606.69,170.31 607.02,170.18 607.34,172.88 607.67,173.31 607.99,167.7 608.32,170.43 608.65,171.07 608.97,167.13 609.3,169.97 609.62,168.89 609.95,167.56 610.28,168.77 610.6,167.85 610.93,171.13 611.25,165.64 611.58,162.51 611.91,163.75 612.23,168.32 612.56,161.82 612.88,158.21 613.21,156.81 613.54,157 613.86,155.32 614.19,148.96 614.52,151.78 614.84,148.69 615.17,146.61 615.49,146.87 615.82,145.23 616.15,139.69 616.47,135.32 616.8,147.45 617.12,119.93 617.45,118 617.78,114.37 618.1,129.42 618.43,124.07 618.75,103.54 619.08,114.65 619.41,104.57 619.73,98.15 620.06,97.79 620.38,98.14 620.71,96.27 621.04,96.13 621.36,104.71 621.69,93.45 622.01,101.2 622.34,98.6 622.67,98.86 622.99,103.57 623.32,92.18 623.64,102.51 623.97,98.78 624.3,83.01 624.62,90.3 624.95,96.45 625.27,104.27 625.6,97.7 625.93,98.23 626.25,105.61 626.58,101.34 626.9,107.9 627.23,107.65 627.56,111.35 627.88,115.64 628.21,112.59 628.53,108.58 628.86,114.76 629.19,121.71 629.51,118.05 629.84,127.17 630.16,131.78 630.49,133.02 630.82,121.87 631.14,127.29 631.47,134.37 631.79,133.76 632.12,145.27 632.45,146.99 632.77,140.75 633.1,137.23 633.42,141.65 633.75,144.41 634.08,149.56 634.4,159.26 634.73,157.42 635.05,154.96 635.38,159.83 635.71,157.94 636.03,161.26 636.36,161.51 636.68,157.35 637.01,164.81 637.34,159.92 637.66,163.75 637.99,167.9 638.32,168.16 638.64,174.54 638.97,166.48 639.29,175.23 639.62,170.04 639.95,165.31 640.27,168.27 640.6,174.05 640.92,173.19 641.25,179.32 641.58,174.82 641.9,174.2 642.23,169.54 642.55,171.86 642.88,174.76 643.21,176.36 643.53,181.02 643.86,176.56 644.18,179.97 644.51,178.15 644.84,174.01 645.16,177.62 645.49,175.86 645.81,179.14 646.14,179.18 646.47,179.15 646.79,174.87 647.12,173.05 647.44,177.7 647.77,178.8 648.1,179.97 648.42,177.54 648.75,181.74 649.07,176.54 649.4,180.24 649.73,176.62 650.05,181.1 650.38,178.73 650.7,180.24 651.03,179.93 651.36,173.94 651.68,177.83 652.01,173.01 652.33,172.74 652.66,169.06 652.99,176.58 653.31,171.4 653.64,170.28 653.96,167.73 654.29,170.68 654.62,170.51 654.94,172.01 655.27,170.65 655.59,169.85 655.92,165.96 656.25,168.39 656.57,166.11 656.9,166.97 657.22,165.91 657.55,165.23 657.88,167.44 658.2,163.56 658.53,165.85 658.85,160.83 659.18,163.49 659.51,166.37 659.83,163.56 660.16,163.37 660.48,157.06 660.81,165.31 661.14,158.32 661.46,162.19 661.79,162.25 662.12,164.93 662.44,166.2 662.77,159.21 663.09,161.94 663.42,155.55 663.75,160.91 664.07,161.35 664.4,161.54 664.72,162.67 665.05,163.27 665.38,160.61 665.7,161.38 666.03,160.51 666.35,161.48 666.68,164.77 667.01,162.89 667.33,161.32 667.66,151.87" stroke="#999" stroke-opacity="0.6" stroke-width="1.1" fill="none" stroke-linejoin="round"/>
<path d="M411.4,150.89 411.73,147.94 412.05,145.36 412.38,142.77 412.7,140.07 413.03,137.44 413.36,134.95 413.68,131.61 414.01,128.09 414.33,124.83 414.66,120.97 414.99,117.17 415.31,113.67 415.64,109.49 415.96,105.76 416.29,101.8 416.62,97.55 416.94,92.98 417.27,88.59 417.59,84.85 417.92,81.66 418.25,79.55 418.57,77.21 418.9,75.56 419.22,75.76 419.55,76.23 419.88,76.49 420.2,76.62 420.53,76.1 420.85,75.44 421.18,74.63 421.51,73.66 421.83,72.93 422.16,73.1 422.48,72.11 422.81,71.21 423.14,71.23 423.46,71.23 423.79,71.27 424.12,72.25 424.44,72.13 424.77,73.66 425.09,74.98 425.42,76.53 425.75,78.31 426.07,79.82 426.4,81.2 426.72,82.75 427.05,84.21 427.38,85.67 427.7,87.9 428.03,89.76 428.35,92 428.68,93.92 429.01,96.67 429.33,98.63 429.66,100.75 429.98,101.79 430.31,103.78 430.64,105.3 430.96,107.03 431.29,108.01 431.61,110.23 431.94,111.57 432.27,113.13 432.59,114.57 432.92,116.22 433.24,117.63 433.57,119.69 433.9,120.9 434.22,122.87 434.55,124.58 434.87,126.31 435.2,128.02 435.53,129.44 435.85,130.6 436.18,132.39 436.5,133.41 436.83,134.51 437.16,135.59 437.48,136.57 437.81,137.73 438.13,139.14 438.46,139.87 438.79,141.02 439.11,142 439.44,142.38 439.76,143.1 440.09,143.42 440.42,143.57 440.74,143.62 441.07,143.76 441.39,144.05 441.72,144.59 442.05,144.72 442.37,145.42 442.7,146.06 443.02,147.11 443.35,147.76 443.68,148.18 444,148.09 444.33,148.49 444.65,148.8 444.98,148.88 445.31,148.76 445.63,148.37 445.96,148.5 446.28,149.04 446.61,149.17 446.94,149 447.26,149.19 447.59,149.32 447.92,149.46 448.24,149.71 448.57,150 448.89,149.75 449.22,150.12 449.55,150.4 449.87,150.62 450.2,151.23 450.52,151.55 450.85,151.81 451.18,152.49 451.5,152.5 451.83,152.72 452.15,152.64 452.48,152.63 452.81,152.44 453.13,152.55 453.46,152.41 453.78,152.94 454.11,152.83 454.44,152.86 454.76,153.27 455.09,153.59 455.41,153.77 455.74,153.99 456.07,154.11 456.39,154.47 456.72,154.73 457.04,154.93 457.37,155.14 457.7,154.97 458.02,155.13 458.35,154.96 458.67,154.74 459,155.03 459.33,154.62 459.65,154.59 459.98,154.85 460.3,154.47 460.63,154.16 460.96,154.33 461.28,154.56 461.61,155.06 461.93,155.27 462.26,155.35 462.59,155.92 462.91,156.7 463.24,156.75 463.56,156.76 463.89,156.83 464.22,157.1 464.54,157.67 464.87,158.28 465.19,158.36 465.52,159.14 465.85,159.54 466.17,159.83 466.5,160.02 466.82,159.92 467.15,160.06 467.48,160.63 467.8,160.65 468.13,161.13 468.45,161.65 468.78,161.73 469.11,161.98 469.43,162.04 469.76,161.81 470.08,162.25 470.41,162.32 470.74,162.3 471.06,162.5 471.39,162.7 471.72,162.56 472.04,162.78 472.37,162.52 472.69,161.91 473.02,161.57 473.35,161.95 473.67,161.66 474,161.58 474.32,161.34 474.65,160.93 474.98,161.04 475.3,160.92 475.63,160.18 475.95,159.82 476.28,159.23 476.61,159.04 476.93,158.62 477.26,158.51 477.58,158.31 477.91,158.23 478.24,158.38 478.56,158.89 478.89,159.17 479.21,159.92 479.54,160.61 479.87,161.15 480.19,161.93 480.52,162.35 480.84,162.58 481.17,162.56 481.5,162.53 481.82,161.86 482.15,161.79 482.47,161.32 482.8,161.38 483.13,160.91 483.45,160.45 483.78,160.11 484.1,159.84 484.43,159.38 484.76,159.13 485.08,158.53 485.41,158.27 485.73,157.88 486.06,157.22 486.39,156.81 486.71,156.2 487.04,155.47 487.36,154.84 487.69,154.5 488.02,153.97 488.34,153.22 488.67,152.51 488.99,151.54 489.32,149.9 489.65,148.55 489.97,146.94 490.3,144.84 490.62,143.56 490.95,141.52 491.28,139.87 491.6,138.42 491.93,136.82 492.25,134.7 492.58,133.38 492.91,131.45 493.23,130.26 493.56,128.97 493.88,128.32 494.21,127.6 494.54,127.12 494.86,126.22 495.19,124.69 495.52,123.63 495.84,122.55 496.17,122 496.49,121.06 496.82,120.14 497.15,119.46 497.47,119.68 497.8,119.3 498.12,119.25 498.45,118.72 498.78,118.75 499.1,118.97 499.43,119.98 499.75,120.33 500.08,121.19 500.41,122.15 500.73,123.5 501.06,123.85 501.38,125 501.71,125.47 502.04,126.41 502.36,126.7 502.69,126.92 503.01,126.63 503.34,127.36 503.67,127.64 503.99,127.32 504.32,127.88 504.64,128.06 504.97,128.61 505.3,128.79 505.62,128.76 505.95,128.49 506.27,128.65 506.6,127.75 506.93,127.1 507.25,125.85 507.58,125.11 507.9,124.05 508.23,122.76 508.56,121.6 508.88,120.16 509.21,119.67 509.53,119.05 509.86,117.95 510.19,117.01 510.51,116.15 510.84,114.72 511.16,113.31 511.49,111.87 511.82,110.28 512.14,109.43 512.47,108.12 512.79,106.85 513.12,106.08 513.45,105.59 513.77,103.99 514.1,102.66 514.42,100.83 514.75,99.54 515.08,98.24 515.4,96.15 515.73,94.09 516.05,92.6 516.38,91.25 516.71,89.89 517.03,88.19 517.36,86.41 517.68,85.26 518.01,84.05 518.34,82.29 518.66,80.6 518.99,78.46 519.32,76.98 519.64,75.31 519.97,74.28 520.29,73.25 520.62,72.88 520.95,72.19 521.27,72.28 521.6,72.45 521.92,72.35 522.25,72.52 522.58,72.26 522.9,72.65 523.23,72.97 523.55,73.7 523.88,74.1 524.21,76.03 524.53,76.71 524.86,77.74 525.18,77.69 525.51,78.94 525.84,80.42 526.16,81.84 526.49,82.04 526.81,83.21 527.14,83.79 527.47,85.51 527.79,86.74 528.12,86.98 528.44,88.12 528.77,89.65 529.1,90.69 529.42,92.49 529.75,93.83 530.07,94.6 530.4,96.82 530.73,98.35 531.05,99.7 531.38,100.72 531.7,101.2 532.03,101.73 532.36,101.76 532.68,100.89 533.01,99.65 533.33,98.79 533.66,97.47 533.99,96.19 534.31,94.94 534.64,94.14 534.96,93.26 535.29,92.4 535.62,91.29 535.94,90.13 536.27,88.94 536.59,87.16 536.92,86.34 537.25,84.74 537.57,83.6 537.9,82.47 538.22,81.54 538.55,81.49 538.88,80.87 539.2,79.86 539.53,79.6 539.85,80.14 540.18,79.57 540.51,79.32 540.83,79.04 541.16,78.64 541.48,78.44 541.81,78.15 542.14,77.18 542.46,77.57 542.79,77.66 543.12,77.95 543.44,78.72 543.77,78.54 544.09,79.31 544.42,80.56 544.75,81.7 545.07,84.24 545.4,86.04 545.72,88.32 546.05,91.35 546.38,94.29 546.7,96.4 547.03,98.8 547.35,101.47 547.68,103.56 548.01,105.69 548.33,108.13 548.66,110 548.98,112.6 549.31,115.29 549.64,116.41 549.96,119.08 550.29,120.82 550.61,122.86 550.94,125.18 551.27,126.93 551.59,128.7 551.92,130.84 552.24,131.96 552.57,134.16 552.9,135.7 553.22,137.24 553.55,139.27 553.87,140.58 554.2,142.45 554.53,144.82 554.85,146.17 555.18,147.58 555.5,149.16 555.83,150.45 556.16,151.61 556.48,152.29 556.81,153.03 557.13,154.5 557.46,155.47 557.79,156.34 558.11,157 558.44,157.9 558.76,159.21 559.09,159.95 559.42,160.56 559.74,161.55 560.07,162 560.39,162.67 560.72,163.53 561.05,163.72 561.37,164.56 561.7,165.08 562.02,165.55 562.35,166.19 562.68,166.57 563,166.79 563.33,167.77 563.65,168.17 563.98,168.9 564.31,169.63 564.63,170.24 564.96,170.98 565.28,171.89 565.61,172.24 565.94,172.74 566.26,173.1 566.59,173.36 566.92,173.61 567.24,173.88 567.57,174.04 567.89,174.33 568.22,174.7 568.55,175.07 568.87,175.47 569.2,175.62 569.52,175.94 569.85,176.46 570.18,176.75 570.5,176.93 570.83,177.13 571.15,177.2 571.48,177.69 571.81,177.98 572.13,177.91 572.46,178.03 572.78,178.08 573.11,178.1 573.44,178.15 573.76,178.09 574.09,178.13 574.41,178.15 574.74,178.02 575.07,178.02 575.39,177.93 575.72,177.99 576.04,177.86 576.37,177.65 576.7,177.49 577.02,177.5 577.35,177.41 577.67,177.22 578,176.97 578.33,176.7 578.65,176.56 578.98,176.66 579.3,176.42 579.63,176.03 579.96,175.67 580.28,175.26 580.61,174.96 580.93,174.6 581.26,173.97 581.59,173.66 581.91,173.45 582.24,173.1 582.56,172.83 582.89,172.6 583.22,172.27 583.54,172.18 583.87,171.87 584.19,171.48 584.52,171.17 584.85,170.83 585.17,170.45 585.5,170.04 585.82,169.5 586.15,169.31 586.48,168.99 586.8,168.85 587.13,168.55 587.45,168.34 587.78,168.03 588.11,167.79 588.43,167.15 588.76,166.63 589.08,166.07 589.41,165.6 589.74,165.36 590.06,164.88 590.39,164.7 590.72,164.14 591.04,164.15 591.37,164.13 591.69,164.13 592.02,163.74 592.35,163.56 592.67,163.08 593,163.26 593.32,163 593.65,162.67 593.98,162.73 594.3,162.78 594.63,163 594.95,162.9 595.28,162.99 595.61,163.26 595.93,163.48 596.26,163.57 596.58,163.66 596.91,163.91 597.24,164.17 597.56,164.54 597.89,164.69 598.21,165.27 598.54,165.24 598.87,165.47 599.19,165.5 599.52,166.03 599.84,166.31 600.17,166.43 600.5,166.51 600.82,166.85 601.15,167.08 601.47,167.46 601.8,167.48 602.13,167.55 602.45,167.85 602.78,167.91 603.1,168.06 603.43,168.12 603.76,168.27 604.08,168.59 604.41,168.62 604.73,168.77 605.06,169.01 605.39,169.14 605.71,169.5 606.04,169.64 606.36,169.74 606.69,169.99 607.02,170.06 607.34,170.09 607.67,170.28 607.99,170.17 608.32,170.15 608.65,169.93 608.97,169.6 609.3,169.5 609.62,169.17 609.95,168.87 610.28,168.42 610.6,167.64 610.93,166.88 611.25,166.29 611.58,165.27 611.91,164.04 612.23,162.52 612.56,161.15 612.88,159.75 613.21,157.96 613.54,156.02 613.86,154.1 614.19,152.13 614.52,150.11 614.84,147.92 615.17,145.49 615.49,143.11 615.82,141.08 616.15,138.01 616.47,134.96 616.8,131.73 617.12,129.1 617.45,126.38 617.78,122.91 618.1,119.37 618.43,116.58 618.75,113.63 619.08,110.89 619.41,107.64 619.73,104.72 620.06,102.83 620.38,100.91 620.71,99.01 621.04,97.88 621.36,96.86 621.69,96.05 622.01,95.77 622.34,95.21 622.67,94.94 622.99,95.17 623.32,94.58 623.64,94.54 623.97,94.91 624.3,95.5 624.62,96.38 624.95,96.91 625.27,97.98 625.6,99.66 625.93,101.43 626.25,103.02 626.58,104.49 626.9,106.48 627.23,108.35 627.56,109.75 627.88,111.6 628.21,113.46 628.53,115.17 628.86,117.15 629.19,119.2 629.51,121.45 629.84,123.42 630.16,125.38 630.49,127.34 630.82,129.43 631.14,131.61 631.47,133.63 631.79,135.35 632.12,137.46 632.45,139.56 632.77,141.49 633.1,143.64 633.42,145.67 633.75,147.49 634.08,149.39 634.4,151.57 634.73,153.38 635.05,155.19 635.38,156.79 635.71,157.79 636.03,159.16 636.36,160.4 636.68,161.55 637.01,162.91 637.34,164.1 637.66,165.5 637.99,166.67 638.32,167.85 638.64,168.95 638.97,169.62 639.29,170.15 639.62,170.85 639.95,171.2 640.27,172.12 640.6,172.41 640.92,172.88 641.25,173.33 641.58,173.72 641.9,173.98 642.23,174.32 642.55,174.59 642.88,174.85 643.21,175.28 643.53,175.83 643.86,176.11 644.18,176.42 644.51,176.61 644.84,176.74 645.16,177.07 645.49,177.26 645.81,177.33 646.14,177.48 646.47,177.66 646.79,177.93 647.12,178.07 647.44,178.06 647.77,178.2 648.1,178.25 648.42,178.49 648.75,178.35 649.07,178.31 649.4,178.08 649.73,177.98 650.05,177.67 650.38,177.3 650.7,176.92 651.03,176.47 651.36,175.81 651.68,175.08 652.01,174.6 652.33,173.91 652.66,173.42 652.99,172.65 653.31,172.21 653.64,171.79 653.96,171.59 654.29,171.01 654.62,170.58 654.94,170.03 655.27,169.68 655.59,169.08 655.92,168.53 656.25,167.87 656.57,167.23 656.9,166.73 657.22,166.23 657.55,165.72 657.88,165.12 658.2,164.6 658.53,164.27 658.85,163.87 659.18,163.39 659.51,162.85 659.83,162.58 660.16,162.24 660.48,161.98 660.81,161.62 661.14,161.5 661.46,161.47 661.79,161.43 662.12,161.15 662.44,160.91 662.77,160.74 663.09,160.58 663.42,160.31 663.75,160.04 664.07,160.11 664.4,159.95 664.72,160.11 665.05,160.01 665.38,159.94 665.7,160.01 666.03,159.95 666.35,159.8 666.68,159.36 667.01,158.92 667.33,158.65 667.66,158.4" stroke="#262626" stroke-width="1.7" fill="none" stroke-linejoin="round" stroke-linecap="round"/>
</g>
<rect x="396.3" y="25.3" width="108.9" height="163.1" fill="#66C2A5" fill-opacity="0.17"/>
<rect x="505.2" y="25.3" width="60" height="163.1" fill="#F3A166" fill-opacity="0.17"/>
<rect x="565.2" y="25.3" width="44.5" height="163.1" fill="#8DA0CB" fill-opacity="0.17"/>
<rect x="609.7" y="25.3" width="59.1" height="163.1" fill="#E78AC3" fill-opacity="0.17"/>
<path d="M488.9,29.9V188.4" stroke="#111" stroke-width="1.8" stroke-dasharray="1.7 4.37" fill="none"/>
<path d="M489.9,41.9H667.3" stroke="#000" stroke-width="1.7" fill="none"/>
<path d="M669.8,41.9l-2.8,-1.6v3.2z" fill="#000" stroke="#000" stroke-width="0.4" stroke-linejoin="round"/>
<path d="M488.1,41.9l2.8,-1.6v3.2z" fill="#000" stroke="#000" stroke-width="0.4" stroke-linejoin="round"/>
<text x="574.6" y="36.6" font-family="Liberation Sans, sans-serif" font-size="10" font-weight="bold" fill="#000" text-anchor="middle">Period of study</text>
<rect x="382.5" y="25.3" width="299.9" height="163.1" fill="none" stroke="#5c5c5c" stroke-width="1.25" stroke-linejoin="round"/>
<path d="M382.5,25.3V188.4H680.4" fill="none" stroke="#474747" stroke-width="1.2"/>
<rect x="382.5" y="1.4" width="299.9" height="23.9" fill="#fff" stroke="#333" stroke-width="1.2" stroke-linejoin="round"/>
<text x="532.45" y="18.1" font-family="Liberation Sans, sans-serif" font-size="12.3" font-weight="bold" fill="#1a1a1a" text-anchor="middle">Hospital admissions</text>
<text x="375" y="191.6" font-family="Liberation Sans, sans-serif" font-size="12.3" fill="#4d4d4d" text-anchor="end">0</text>
<text x="375" y="155.09" font-family="Liberation Sans, sans-serif" font-size="12.3" fill="#4d4d4d" text-anchor="end">200</text>
<text x="375" y="118.58" font-family="Liberation Sans, sans-serif" font-size="12.3" fill="#4d4d4d" text-anchor="end">400</text>
<text x="375" y="82.06" font-family="Liberation Sans, sans-serif" font-size="12.3" fill="#4d4d4d" text-anchor="end">600</text>
<text x="375" y="45.55" font-family="Liberation Sans, sans-serif" font-size="12.3" fill="#4d4d4d" text-anchor="end">800</text>
<text x="430.5" y="204.9" font-family="Liberation Sans, sans-serif" font-size="12.3" fill="#4d4d4d" text-anchor="middle">Jul 20</text>
<text x="490.3" y="204.9" font-family="Liberation Sans, sans-serif" font-size="12.3" fill="#4d4d4d" text-anchor="middle">Jan 21</text>
<text x="549.5" y="204.9" font-family="Liberation Sans, sans-serif" font-size="12.3" fill="#4d4d4d" text-anchor="middle">Jul 21</text>
<text x="609.3" y="204.9" font-family="Liberation Sans, sans-serif" font-size="12.3" fill="#4d4d4d" text-anchor="middle">Jan 22</text>
<text x="668.5" y="204.9" font-family="Liberation Sans, sans-serif" font-size="12.3" fill="#4d4d4d" text-anchor="middle">Jul 22</text>
<path d="M378.3,186.8H382.5M378.3,150.29H382.5M378.3,113.78H382.5M378.3,77.26H382.5M378.3,40.75H382.5M430.8,188.4V192.6M490.6,188.4V192.6M549.8,188.4V192.6M609.6,188.4V192.6M668.8,188.4V192.6" stroke="#333" stroke-width="1.35" fill="none"/>
<clipPath id="c01"><rect x="46.5" y="239.3" width="299.9" height="163.1"/></clipPath>
<rect x="46.5" y="239.3" width="299.9" height="163.1" fill="#fff"/>
<path d="M46.5,368.75H346.4M46.5,315.25H346.4M46.5,261.75H346.4M64.8,239.3V402.4M124.7,239.3V402.4M184.2,239.3V402.4M243.7,239.3V402.4M303.2,239.3V402.4" stroke="#ebebeb" stroke-width="0.6" fill="none"/>
<path d="M46.5,395.5H346.4M46.5,342H346.4M46.5,288.5H346.4M94.8,239.3V402.4M154.6,239.3V402.4M213.8,239.3V402.4M273.6,239.3V402.4M332.8,239.3V402.4" stroke="#e6e6e6" stroke-width="1.1" fill="none"/>
<g clip-path="url(#c01)">
<path d="M75.5,379.73 75.83,366.67 76.15,363.94 76.48,361.36 76.8,362.36 77.13,361.06 77.46,361.32 77.78,356.12 78.11,354.34 78.43,340.34 78.76,350.76 79.09,358.67 79.41,347.75 79.74,342.31 80.06,342.82 80.39,332.11 80.72,334.22 81.04,321.22 81.37,337.22 81.69,339.13 82.02,323.34 82.35,327.7 82.67,325.59 83,317.3 83.32,317.06 83.65,325.85 83.98,331.31 84.3,330.36 84.63,335.75 84.95,308.64 85.28,324.39 85.61,321.86 85.93,325.37 86.26,328.35 86.58,325.69 86.91,334.38 87.24,321.18 87.56,326.52 87.89,320.42 88.22,317.17 88.54,325.39 88.87,316.96 89.19,332.41 89.52,327.05 89.85,326.27 90.17,335.04 90.5,326.06 90.82,325.31 91.15,331.69 91.48,332.75 91.8,321.12 92.13,333.23 92.45,328.54 92.78,328.35 93.11,334.6 93.43,336.52 93.76,346.11 94.08,334.47 94.41,330.9 94.74,348.38 95.06,331.22 95.39,341.89 95.71,339.52 96.04,346.77 96.37,336.32 96.69,346.53 97.02,356.73 97.34,348.01 97.67,353.4 98,351.46 98.32,366.94 98.65,356.89 98.97,352.62 99.3,356.06 99.63,350.23 99.95,368.57 100.28,363.79 100.6,372.74 100.93,359.68 101.26,358.86 101.58,362.6 101.91,370.24 102.23,368.87 102.56,370.41 102.89,371.03 103.21,364.91 103.54,370.9 103.86,366.24 104.19,368.46 104.52,366.79 104.84,366.95 105.17,372.54 105.49,368.57 105.82,368.43 106.15,369.83 106.47,368.83 106.8,368.95 107.12,371.34 107.45,377.71 107.78,373.02 108.1,369.71 108.43,371.92 108.75,364.57 109.08,371.47 109.41,376.69 109.73,372.91 110.06,366.74 110.38,380.89 110.71,372.85 111.04,378.26 111.36,372.54 111.69,379.85 112.02,366 112.34,373.47 112.67,374.61 112.99,368.96 113.32,372.74 113.65,369.45 113.97,369.13 114.3,367.67 114.62,374.75 114.95,364.68 115.28,375.85 115.6,369.51 115.93,361.57 116.25,370.79 116.58,377.59 116.91,369.29 117.23,369.64 117.56,373.93 117.88,380.15 118.21,361.65 118.54,373.64 118.86,374.7 119.19,365.9 119.51,374.6 119.84,370.33 120.17,365.8 120.49,369.27 120.82,380.45 121.14,377.09 121.47,371.79 121.8,379.68 122.12,365.99 122.45,372.45 122.77,368.62 123.1,385.4 123.43,376.19 123.75,368.35 124.08,372.8 124.4,373.44 124.73,373.33 125.06,373.68 125.38,372.54 125.71,380.75 126.03,372.67 126.36,373.6 126.69,371.02 127.01,376.1 127.34,375.98 127.66,379.97 127.99,381.49 128.32,373.79 128.64,372.67 128.97,369.76 129.29,370.23 129.62,378.88 129.95,375 130.27,382.65 130.6,369.87 130.92,374.09 131.25,369.5 131.58,376.3 131.9,378.31 132.23,375.4 132.55,378.8 132.88,376.42 133.21,370.51 133.53,371.85 133.86,373.54 134.18,373.17 134.51,378.74 134.84,379.98 135.16,370.16 135.49,378.01 135.82,368.47 136.14,376.64 136.47,370.63 136.79,384.24 137.12,369.81 137.45,370.98 137.77,373.74 138.1,373.64 138.42,375.99 138.75,381.34 139.08,382.93 139.4,377.08 139.73,374.26 140.05,384.31 140.38,370.99 140.71,371.88 141.03,377.37 141.36,384.31 141.68,377.98 142.01,378.84 142.34,376.81 142.66,380.09 142.99,383.16 143.31,383.01 143.64,379.97 143.97,379.5 144.29,375.86 144.62,379.51 144.94,380.32 145.27,379.12 145.6,381.77 145.92,380.08 146.25,380.97 146.57,371.85 146.9,372.97 147.23,373.7 147.55,374.74 147.88,380.33 148.2,379.63 148.53,380.85 148.86,376.78 149.18,368.71 149.51,376.49 149.83,372.42 150.16,371.94 150.49,369.74 150.81,376.5 151.14,364.93 151.46,374.65 151.79,371.11 152.12,367.66 152.44,368.21 152.77,372.9 153.09,367.77 153.42,367.01 153.75,367.04 154.07,365.62 154.4,370.05 154.72,358.59 155.05,357.96 155.38,355.26 155.7,356.74 156.03,354.69 156.35,359.47 156.68,352.52 157.01,349.17 157.33,360.55 157.66,357.73 157.98,347.35 158.31,346.88 158.64,357.12 158.96,345 159.29,349.21 159.62,343.03 159.94,354.31 160.27,333.86 160.59,338.56 160.92,343.9 161.25,345.07 161.57,349.84 161.9,349.67 162.22,344.02 162.55,344.37 162.88,343.65 163.2,347.2 163.53,354.33 163.85,342.03 164.18,346.15 164.51,346.03 164.83,339.55 165.16,346.7 165.48,341.69 165.81,340.68 166.14,338.53 166.46,361.56 166.79,354.28 167.11,343.25 167.44,345.41 167.77,349.86 168.09,340.26 168.42,357.09 168.74,353.76 169.07,343.35 169.4,330.61 169.72,342.51 170.05,347.96 170.37,342.47 170.7,350.88 171.03,346.07 171.35,344.71 171.68,341.29 172,343.21 172.33,343.57 172.66,341.12 172.98,339.97 173.31,329.28 173.63,341.85 173.96,328.15 174.29,331.41 174.61,320.85 174.94,328.39 175.26,327.27 175.59,334.73 175.92,321.17 176.24,322.1 176.57,310.35 176.89,319.69 177.22,301.29 177.55,318.1 177.87,325.2 178.2,320.16 178.52,298.81 178.85,311.62 179.18,308.96 179.5,305.95 179.83,299.48 180.15,311.59 180.48,305.5 180.81,294.56 181.13,297.46 181.46,286.14 181.78,280.76 182.11,297.89 182.44,298.22 182.76,289.54 183.09,271.62 183.42,274.84 183.74,282.58 184.07,275.21 184.39,275.69 184.72,282.42 185.05,286.49 185.37,266.85 185.7,271.2 186.02,278.9 186.35,282.73 186.68,275.49 187,288.87 187.33,286.98 187.65,262.83 187.98,279.19 188.31,284.4 188.63,309.19 188.96,283.56 189.28,306.81 189.61,297.16 189.94,291.73 190.26,291.34 190.59,279.34 190.91,292.61 191.24,297.82 191.57,304.38 191.89,306.71 192.22,316.73 192.54,289.51 192.87,304.98 193.2,290.51 193.52,294.33 193.85,305.54 194.17,324.4 194.5,312.11 194.83,306.87 195.15,317.76 195.48,311.41 195.8,313.07 196.13,322.86 196.46,309.07 196.78,307.35 197.11,317.49 197.43,311.22 197.76,308.83 198.09,306.31 198.41,299.05 198.74,309.62 199.06,298.15 199.39,296.67 199.72,298.44 200.04,291.84 200.37,299.17 200.69,303.05 201.02,294.75 201.35,294.64 201.67,297.27 202,281.34 202.32,299.55 202.65,296.28 202.98,295.25 203.3,290.26 203.63,284.87 203.95,279.7 204.28,287.66 204.61,298.14 204.93,294.53 205.26,290.64 205.58,294.38 205.91,281.97 206.24,284.54 206.56,287.7 206.89,297.11 207.22,288.22 207.54,301.71 207.87,312.17 208.19,284.45 208.52,289.46 208.85,295.24 209.17,309.88 209.5,303.87 209.82,310.65 210.15,308.08 210.48,306.77 210.8,319.48 211.13,321.92 211.45,318.14 211.78,323.96 212.11,329.02 212.43,325.23 212.76,329.6 213.08,314.12 213.41,334.01 213.74,330.34 214.06,343.47 214.39,341.86 214.71,350.67 215.04,338.2 215.37,342.65 215.69,348.28 216.02,350.58 216.34,356.57 216.67,360.22 217,365.41 217.32,360.5 217.65,352.42 217.97,355.91 218.3,349.86 218.63,365.24 218.95,366.14 219.28,366.56 219.6,366.49 219.93,362.78 220.26,366.1 220.58,367.32 220.91,369.83 221.23,371.06 221.56,371.07 221.89,361.15 222.21,371.28 222.54,376.22 222.86,371.12 223.19,372.24 223.52,376.63 223.84,376.18 224.17,368.77 224.49,372.94 224.82,374.84 225.15,371.21 225.47,380.99 225.8,374.57 226.12,379.62 226.45,372.64 226.78,376.05 227.1,381.6 227.43,377.33 227.75,376.71 228.08,380.91 228.41,381.84 228.73,379.81 229.06,381.09 229.38,384.55 229.71,392.27 230.04,383.47 230.36,381.17 230.69,384.08 231.02,385.72 231.34,371.33 231.67,381.53 231.99,381.98 232.32,385.65 232.65,385.8 232.97,384.79 233.3,377.86 233.62,380.57 233.95,388.8 234.28,388.52 234.6,389.74 234.93,389.17 235.25,388.03 235.58,393.61 235.91,383.05 236.23,385.78 236.56,395.8 236.88,388.09 237.21,389.81 237.54,394.23 237.86,382 238.19,382.33 238.51,385.94 238.84,387.38 239.17,394.2 239.49,388.66 239.82,395.8 240.14,385.13 240.47,389.89 240.8,389.81 241.12,394.24 241.45,385.8 241.77,395.52 242.1,393.25 242.43,380 242.75,381.7 243.08,384.33 243.4,389.74 243.73,389.43 244.06,389.68 244.38,385.4 244.71,377.29 245.03,390.88 245.36,376.58 245.69,385.56 246.01,392.61 246.34,388.35 246.66,379.07 246.99,382.66 247.32,384.54 247.64,380.99 247.97,382.21 248.29,385.46 248.62,382.79 248.95,389.2 249.27,382.99 249.6,381.43 249.92,377.08 250.25,379.19 250.58,379.79 250.9,378.98 251.23,381.56 251.55,373.18 251.88,375.77 252.21,383.08 252.53,380.95 252.86,379.54 253.18,380.08 253.51,380.87 253.84,376.19 254.16,375.31 254.49,373.7 254.82,373.76 255.14,383.64 255.47,382.32 255.79,382.98 256.12,371.89 256.45,374.03 256.77,380.44 257.1,370.67 257.42,373.65 257.75,376.67 258.08,383.58 258.4,369.71 258.73,370.55 259.05,365.09 259.38,376.22 259.71,374.98 260.03,374.78 260.36,383.05 260.68,372.27 261.01,376.05 261.34,367.86 261.66,377.57 261.99,376.87 262.31,389.63 262.64,379.45 262.97,381.66 263.29,379.9 263.62,378.1 263.94,379.04 264.27,378.58 264.6,387.48 264.92,386.66 265.25,378.62 265.57,378.6 265.9,381.81 266.23,380.09 266.55,381.4 266.88,387.71 267.2,386.07 267.53,380.34 267.86,380.65 268.18,384.62 268.51,386.16 268.83,378.93 269.16,383.19 269.49,383.95 269.81,381.62 270.14,381.46 270.46,385 270.79,378.59 271.12,378.75 271.44,382.44 271.77,391.93 272.09,378.4 272.42,383.08 272.75,390.53 273.07,389.43 273.4,392.98 273.72,385.19 274.05,388.19 274.38,380.62 274.7,388.7 275.03,381.21 275.35,380.42 275.68,386.23 276.01,394.7 276.33,389.7 276.66,379.75 276.98,385.76 277.31,382.97 277.64,390.68 277.96,376.51 278.29,386.87 278.62,387.51 278.94,379.61 279.27,376.26 279.59,380.49 279.92,387.34 280.25,383.37 280.57,375.15 280.9,379.96 281.22,368.65 281.55,379.69 281.88,378.39 282.2,374.5 282.53,376.03 282.85,373.16 283.18,374.74 283.51,370.53 283.83,356.48 284.16,355.43 284.48,364.42 284.81,356.83 285.14,365.37 285.46,356.56 285.79,348.65 286.11,352.7 286.44,340.94 286.77,352.1 287.09,357.19 287.42,356.02 287.74,357.42 288.07,346.02 288.4,352.33 288.72,354.77 289.05,352.8 289.37,361.64 289.7,360.91 290.03,359.41 290.35,358.58 290.68,352.58 291,361.49 291.33,353.33 291.66,364.15 291.98,357.42 292.31,372.94 292.63,366.18 292.96,368.8 293.29,365.88 293.61,369.9 293.94,375.2 294.26,368.1 294.59,372.95 294.92,372.17 295.24,369.92 295.57,366.51 295.89,374.19 296.22,381.88 296.55,377.03 296.87,381.46 297.2,375.81 297.52,370.64 297.85,382.23 298.18,381.29 298.5,388.69 298.83,381.06 299.15,390.88 299.48,381.23 299.81,383.37 300.13,387.47 300.46,385.2 300.78,393.58 301.11,390.64 301.44,389.63 301.76,380.55 302.09,385.17 302.42,385.36 302.74,388.97 303.07,393.54 303.39,394.24 303.72,387.2 304.05,386.49 304.37,387.19 304.7,390.26 305.02,386.82 305.35,387.27 305.68,389.93 306,394.12 306.33,394.96 306.65,389.77 306.98,389.77 307.31,389.41 307.63,391.69 307.96,390.16 308.28,395.8 308.61,393.17 308.94,391.99 309.26,391.28 309.59,395.8 309.91,390.01 310.24,395.8 310.57,395.64 310.89,384.76 311.22,386.91 311.54,391.22 311.87,390.93 312.2,392.74 312.52,392.6 312.85,395.8 313.17,388.03 313.5,392.38 313.83,388.87 314.15,390.25 314.48,389.39 314.8,395.8 315.13,395.8 315.46,387.87 315.78,387.42 316.11,391.71 316.43,390.61 316.76,385.79 317.09,395.8 317.41,395.09 317.74,389.35 318.06,390.91 318.39,392.26 318.72,381.91 319.04,391.16 319.37,395.8 319.69,389.99 320.02,385.4 320.35,387.27 320.67,389.3 321,386.19 321.32,390.97 321.65,388.31 321.98,388.29 322.3,385.76 322.63,390.23 322.95,383.12 323.28,387.09 323.61,389.18 323.93,391.35 324.26,387.46 324.58,380.22 324.91,384.24 325.24,386.73 325.56,386.92 325.89,388.31 326.22,392.88 326.54,394.98 326.87,385.7 327.19,384.36 327.52,384.15 327.85,393.12 328.17,386.12 328.5,392.69 328.82,390.57 329.15,378.41 329.48,386.72 329.8,388.6 330.13,391.76 330.45,382.79 330.78,389.22 331.11,391.19 331.43,380.67 331.76,385.83" stroke="#999" stroke-opacity="0.6" stroke-width="1.1" fill="none" stroke-linejoin="round"/>
<path d="M75.5,369 75.83,367.31 76.15,365.65 76.48,364.56 76.8,362.08 77.13,360.35 77.46,357.68 77.78,355.67 78.11,353.96 78.43,351.47 78.76,348.61 79.09,346.31 79.41,343.54 79.74,341.93 80.06,338.66 80.39,336.01 80.72,334.4 81.04,332.17 81.37,330.27 81.69,329.02 82.02,327.13 82.35,326.27 82.67,325.02 83,324.12 83.32,324.34 83.65,324.71 83.98,323.31 84.3,323.67 84.63,323.88 84.95,323.74 85.28,323.45 85.61,323.04 85.93,322.91 86.26,323.8 86.58,323.98 86.91,323.93 87.24,323.42 87.56,323.3 87.89,322.78 88.22,322.76 88.54,323.33 88.87,323.55 89.19,324.92 89.52,325.95 89.85,326.35 90.17,327.78 90.5,328.15 90.82,328.09 91.15,328.96 91.48,328.88 91.8,329.44 92.13,330.52 92.45,331.29 92.78,332.68 93.11,334.04 93.43,334.29 93.76,336.13 94.08,336.79 94.41,337.8 94.74,338.57 95.06,339.31 95.39,340.26 95.71,342.29 96.04,343.79 96.37,345.83 96.69,347.38 97.02,348.95 97.34,351.11 97.67,353.31 98,354.45 98.32,355.07 98.65,355.85 98.97,357.49 99.3,358.9 99.63,359.81 99.95,360.48 100.28,361.36 100.6,362.22 100.93,364.03 101.26,364.39 101.58,365.18 101.91,365.34 102.23,365.98 102.56,367.09 102.89,367.59 103.21,367.69 103.54,367.77 103.86,367.74 104.19,368.06 104.52,368.53 104.84,368.56 105.17,369 105.49,369.19 105.82,369.49 106.15,369.94 106.47,370.43 106.8,370.86 107.12,371.06 107.45,371.31 107.78,371.1 108.1,371.37 108.43,371.84 108.75,371.57 109.08,371.19 109.41,372.06 109.73,372.18 110.06,373.21 110.38,373.33 110.71,373.59 111.04,373.12 111.36,373.62 111.69,373.19 112.02,372.92 112.34,372.52 112.67,372.29 112.99,371.52 113.32,371.62 113.65,371.69 113.97,370.95 114.3,371.38 114.62,371.03 114.95,370.29 115.28,370.22 115.6,370.75 115.93,370.21 116.25,370.47 116.58,370.29 116.91,371.07 117.23,371.13 117.56,371.4 117.88,371.28 118.21,371.14 118.54,371.6 118.86,371.45 119.19,370.53 119.51,371.19 119.84,371.77 120.17,372.03 120.49,372.53 120.82,372.97 121.14,372.75 121.47,373.32 121.8,373.36 122.12,373.8 122.45,373.83 122.77,373.66 123.1,373.25 123.43,373.85 123.75,373.98 124.08,374.4 124.4,373.53 124.73,373.9 125.06,374.24 125.38,374.34 125.71,374.2 126.03,374.43 126.36,374.62 126.69,375.18 127.01,375.27 127.34,375.37 127.66,375.34 127.99,375.28 128.32,374.89 128.64,375.13 128.97,374.81 129.29,374.93 129.62,374.68 129.95,374.82 130.27,374.83 130.6,375.29 130.92,375.29 131.25,375.35 131.58,375.1 131.9,375.6 132.23,375.38 132.55,375.58 132.88,375.41 133.21,375.08 133.53,375.35 133.86,375.47 134.18,375.06 134.51,375.63 134.84,375.43 135.16,375.68 135.49,375.54 135.82,375.97 136.14,375.27 136.47,375.37 136.79,375.09 137.12,375.49 137.45,375.47 137.77,376.25 138.1,376.17 138.42,376.69 138.75,376.92 139.08,377.66 139.4,377.46 139.73,377.15 140.05,376.85 140.38,376.93 140.71,376.99 141.03,377.33 141.36,376.81 141.68,377.5 142.01,378.36 142.34,378.84 142.66,378.62 142.99,378.82 143.31,378.7 143.64,378.98 143.97,379.09 144.29,378.87 144.62,378.84 144.94,378.86 145.27,378.96 145.6,378.66 145.92,378.17 146.25,377.65 146.57,377.28 146.9,377.09 147.23,376.93 147.55,376.78 147.88,376.95 148.2,376.39 148.53,376.24 148.86,375.67 149.18,374.64 149.51,373.49 149.83,372.75 150.16,371.54 150.49,371.68 150.81,371.12 151.14,370.67 151.46,370.32 151.79,370.43 152.12,369.64 152.44,369.54 152.77,368.62 153.09,367.75 153.42,367.37 153.75,366.1 154.07,364.43 154.4,362.92 154.72,361.57 155.05,360.09 155.38,359.1 155.7,357.33 156.03,356.15 156.35,355.82 156.68,355.49 157.01,354.31 157.33,353.26 157.66,352.62 157.98,351.62 158.31,351.19 158.64,349.48 158.96,348.75 159.29,347.3 159.62,346.23 159.94,344.84 160.27,344.44 160.59,344.14 160.92,344.34 161.25,343.42 161.57,344.06 161.9,344.36 162.22,344.6 162.55,345.3 162.88,344.82 163.2,344.66 163.53,344.89 163.85,344.65 164.18,345.07 164.51,344.98 164.83,344.36 165.16,344.47 165.48,345.91 165.81,346.8 166.14,347.27 166.46,347.3 166.79,347.91 167.11,347.88 167.44,349.18 167.77,348.58 168.09,347.74 168.42,346.76 168.74,346.45 169.07,346.19 169.4,346.2 169.72,345.59 170.05,344.86 170.37,344.75 170.7,345.28 171.03,345.06 171.35,344.43 171.68,343.97 172,342.77 172.33,341.1 172.66,340.37 172.98,338.84 173.31,337.32 173.63,334.97 173.96,333.3 174.29,331.61 174.61,331.2 174.94,328.93 175.26,327.72 175.59,325.45 175.92,324.58 176.24,321.84 176.57,320.37 176.89,318.85 177.22,317.93 177.55,315.4 177.87,314.62 178.2,312.96 178.52,312.35 178.85,310.04 179.18,308.08 179.5,306.03 179.83,304.73 180.15,302.73 180.48,300.15 180.81,297.44 181.13,296.45 181.46,294.6 181.78,292.58 182.11,290.06 182.44,287.58 182.76,286.5 183.09,285.33 183.42,283.06 183.74,281.24 184.07,280.21 184.39,279.01 184.72,277.98 185.05,277.16 185.37,277.42 185.7,277.38 186.02,278.14 186.35,278.64 186.68,278.98 187,280.24 187.33,281.36 187.65,284 187.98,285.31 188.31,287.25 188.63,288.54 188.96,291.14 189.28,292.55 189.61,292.76 189.94,292.14 190.26,293.74 190.59,294.15 190.91,295.42 191.24,297.81 191.57,298.3 191.89,300.77 192.22,301.27 192.54,301.67 192.87,302.42 193.2,304.33 193.52,304.63 193.85,306.45 194.17,307.96 194.5,310.27 194.83,312.6 195.15,314.86 195.48,314.62 195.8,314.83 196.13,315.72 196.46,315.06 196.78,314.44 197.11,313.38 197.43,311 197.76,310.3 198.09,308.85 198.41,306.59 198.74,304.95 199.06,303.06 199.39,301.78 199.72,301.18 200.04,299.19 200.37,297.99 200.69,297.09 201.02,294.96 201.35,294.69 201.67,293.82 202,292.67 202.32,291.82 202.65,290.72 202.98,289.22 203.3,289.56 203.63,289.43 203.95,289.3 204.28,289 204.61,289.37 204.93,289.27 205.26,289.79 205.58,290.01 205.91,290.23 206.24,290.15 206.56,291.42 206.89,293.31 207.22,294.18 207.54,295.3 207.87,296.65 208.19,298.39 208.52,300.36 208.85,301.84 209.17,302.34 209.5,304.66 209.82,307.49 210.15,310.07 210.48,311.36 210.8,313.54 211.13,315.66 211.45,317.81 211.78,320.45 212.11,321.31 212.43,323.62 212.76,326.07 213.08,329.12 213.41,331.71 213.74,335.17 214.06,337.34 214.39,340.77 214.71,342.93 215.04,345.41 215.37,347.28 215.69,349.46 216.02,351.28 216.34,353.6 216.67,354.97 217,356.19 217.32,356.81 217.65,358.1 217.97,359.16 218.3,359.86 218.63,360.89 218.95,362.21 219.28,363.5 219.6,365.29 219.93,366.14 220.26,366.99 220.58,367.79 220.91,367.86 221.23,368.87 221.56,369.94 221.89,370.51 222.21,370.95 222.54,371.58 222.86,372.16 223.19,372.91 223.52,373.23 223.84,373.35 224.17,373.6 224.49,374.47 224.82,374.56 225.15,375.03 225.47,375.53 225.8,375.97 226.12,376.66 226.45,377.31 226.78,377.22 227.1,377.88 227.43,378.25 227.75,378.97 228.08,379.54 228.41,379.97 228.73,381.26 229.06,381.99 229.38,382.26 229.71,382.68 230.04,383.36 230.36,382.91 230.69,382.94 231.02,382.43 231.34,382.8 231.67,383.32 231.99,383.55 232.32,383.13 232.65,383.92 232.97,384.56 233.3,385.14 233.62,385.54 233.95,385.88 234.28,386.2 234.6,387.42 234.93,387.68 235.25,387.54 235.58,388.14 235.91,388.09 236.23,388.2 236.56,388.71 236.88,387.94 237.21,387.94 237.54,388.01 237.86,387.46 238.19,387.94 238.51,387.9 238.84,388.06 239.17,388.32 239.49,388.89 239.82,389.19 240.14,389.69 240.47,389.09 240.8,389.56 241.12,389.35 241.45,388.93 241.77,388.29 242.1,387.83 242.43,387.41 242.75,387.54 243.08,386.99 243.4,386.27 243.73,385.91 244.06,386.39 244.38,385.66 244.71,385.18 245.03,385.22 245.36,384.94 245.69,384.31 246.01,384.53 246.34,383.92 246.66,384.1 246.99,383.71 247.32,383.05 247.64,382.51 247.97,383.1 248.29,382.99 248.62,382.65 248.95,382.25 249.27,381.92 249.6,381.4 249.92,381.02 250.25,380.36 250.58,379.55 250.9,379.03 251.23,379.35 251.55,379.37 251.88,379.25 252.21,379.22 252.53,379.06 252.86,379.18 253.18,379.04 253.51,378.26 253.84,377.64 254.16,377.81 254.49,377.85 254.82,377.89 255.14,377.47 255.47,377.27 255.79,377.66 256.12,377.36 256.45,376.58 256.77,376.12 257.1,376.12 257.42,375.91 257.75,375.61 258.08,374.47 258.4,374.82 258.73,374.87 259.05,374.7 259.38,374.62 259.71,374.78 260.03,375.15 260.36,375.33 260.68,375.41 261.01,375.54 261.34,376.62 261.66,376.38 261.99,377.09 262.31,377.44 262.64,378.26 262.97,378.49 263.29,378.77 263.62,378.79 263.94,379.5 264.27,379.5 264.6,379.63 264.92,380.11 265.25,380.39 265.57,380.78 265.9,380.99 266.23,381.19 266.55,381.57 266.88,381.99 267.2,382.46 267.53,383.17 267.86,383.25 268.18,383.16 268.51,383.22 268.83,383.5 269.16,383.71 269.49,383.85 269.81,383.4 270.14,383.47 270.46,383.48 270.79,384.11 271.12,383.93 271.44,384.09 271.77,384.52 272.09,385.32 272.42,386.37 272.75,386.59 273.07,386.35 273.4,386.54 273.72,386.98 274.05,386.36 274.38,385.78 274.7,385.37 275.03,386.12 275.35,386.3 275.68,386.29 276.01,386.12 276.33,386.25 276.66,386.96 276.98,386.19 277.31,385.51 277.64,385.22 277.96,385.06 278.29,384.22 278.62,383.86 278.94,383.42 279.27,383.69 279.59,382.61 279.92,381.81 280.25,380.73 280.57,380.65 280.9,380.14 281.22,378.72 281.55,377.53 281.88,376.48 282.2,375 282.53,373.94 282.85,371.19 283.18,368.67 283.51,367.11 283.83,364.84 284.16,363.35 284.48,361.11 284.81,358.63 285.14,357.51 285.46,355.73 285.79,354.17 286.11,353.72 286.44,352.82 286.77,352.78 287.09,352.6 287.42,352.69 287.74,353.85 288.07,354.11 288.4,354.64 288.72,355.16 289.05,355.44 289.37,356.52 289.7,356.81 290.03,357.64 290.35,358.1 290.68,358.73 291,358.97 291.33,360.44 291.66,361.49 291.98,363.17 292.31,364 292.63,365.71 292.96,367.02 293.29,368.3 293.61,368.81 293.94,369.72 294.26,370.29 294.59,370.83 294.92,371.65 295.24,372.65 295.57,373.8 295.89,374.92 296.22,375.68 296.55,376.22 296.87,377.81 297.2,378.77 297.52,379.67 297.85,380.35 298.18,381.4 298.5,382.14 298.83,383.4 299.15,384.1 299.48,384.69 299.81,385.33 300.13,386.28 300.46,386.45 300.78,386.63 301.11,386.98 301.44,387.04 301.76,387.51 302.09,387.69 302.42,388.11 302.74,388.09 303.07,388.66 303.39,388.94 303.72,389.41 304.05,389.37 304.37,389.04 304.7,388.84 305.02,389.43 305.35,390.14 305.68,390.42 306,390.48 306.33,390.76 306.65,391.17 306.98,391.27 307.31,391.47 307.63,391.43 307.96,391.66 308.28,391.85 308.61,392.38 308.94,392.32 309.26,392.79 309.59,392.84 309.91,392.3 310.24,391.99 310.57,392.04 310.89,391.73 311.22,391.96 311.54,391.77 311.87,391.79 312.2,392.03 312.52,392.41 312.85,392.23 313.17,392.15 313.5,391.87 313.83,392.05 314.15,392 314.48,391.92 314.8,391.5 315.13,391.64 315.46,391.6 315.78,391.28 316.11,391.22 316.43,391.11 316.76,391.14 317.09,391.3 317.41,391.26 317.74,390.54 318.06,390.84 318.39,390.74 318.72,390.29 319.04,389.91 319.37,389.57 319.69,389.27 320.02,389.5 320.35,389.42 320.67,388.82 321,388.63 321.32,388.59 321.65,388.74 321.98,388.24 322.3,388.24 322.63,388.05 322.95,388.22 323.28,388.11 323.61,387.66 323.93,387.2 324.26,387.42 324.58,387.38 324.91,387.31 325.24,387.41 325.56,387.95 325.89,388.36 326.22,388.38 326.54,388.22 326.87,388.69 327.19,388.56 327.52,388.58 327.85,388.29 328.17,387.8 328.5,387.99 328.82,388.33 329.15,388.23 329.48,387.99 329.8,387.73 330.13,387.75 330.45,387.89 330.78,387.8 331.11,387.94 331.43,388.05 331.76,388.16" stroke="#262626" stroke-width="1.7" fill="none" stroke-linejoin="round" stroke-linecap="round"/>
</g>
<rect x="60.3" y="239.3" width="108.9" height="163.1" fill="#66C2A5" fill-opacity="0.17"/>
<rect x="169.2" y="239.3" width="60" height="163.1" fill="#F3A166" fill-opacity="0.17"/>
<rect x="229.2" y="239.3" width="44.5" height="163.1" fill="#8DA0CB" fill-opacity="0.17"/>
<rect x="273.7" y="239.3" width="59.1" height="163.1" fill="#E78AC3" fill-opacity="0.17"/>
<path d="M152.9,243.9V402.4" stroke="#111" stroke-width="1.8" stroke-dasharray="1.7 4.37" fill="none"/>
<path d="M153.9,255.9H331.3" stroke="#000" stroke-width="1.7" fill="none"/>
<path d="M333.8,255.9l-2.8,-1.6v3.2z" fill="#000" stroke="#000" stroke-width="0.4" stroke-linejoin="round"/>
<path d="M152.1,255.9l2.8,-1.6v3.2z" fill="#000" stroke="#000" stroke-width="0.4" stroke-linejoin="round"/>
<text x="238.6" y="250.6" font-family="Liberation Sans, sans-serif" font-size="10" font-weight="bold" fill="#000" text-anchor="middle">Period of study</text>
<rect x="46.5" y="239.3" width="299.9" height="163.1" fill="none" stroke="#5c5c5c" stroke-width="1.25" stroke-linejoin="round"/>
<path d="M46.5,239.3V402.4H344.4" fill="none" stroke="#474747" stroke-width="1.2"/>
<rect x="46.5" y="215.4" width="299.9" height="23.9" fill="#fff" stroke="#333" stroke-width="1.2" stroke-linejoin="round"/>
<text x="196.45" y="232.1" font-family="Liberation Sans, sans-serif" font-size="12.3" font-weight="bold" fill="#1a1a1a" text-anchor="middle">ICU admissions</text>
<text x="39" y="400.3" font-family="Liberation Sans, sans-serif" font-size="12.3" fill="#4d4d4d" text-anchor="end">0</text>
<text x="39" y="346.8" font-family="Liberation Sans, sans-serif" font-size="12.3" fill="#4d4d4d" text-anchor="end">100</text>
<text x="39" y="293.3" font-family="Liberation Sans, sans-serif" font-size="12.3" fill="#4d4d4d" text-anchor="end">200</text>
<text x="94.5" y="418.9" font-family="Liberation Sans, sans-serif" font-size="12.3" fill="#4d4d4d" text-anchor="middle">Jul 20</text>
<text x="154.3" y="418.9" font-family="Liberation Sans, sans-serif" font-size="12.3" fill="#4d4d4d" text-anchor="middle">Jan 21</text>
<text x="213.5" y="418.9" font-family="Liberation Sans, sans-serif" font-size="12.3" fill="#4d4d4d" text-anchor="middle">Jul 21</text>
<text x="273.3" y="418.9" font-family="Liberation Sans, sans-serif" font-size="12.3" fill="#4d4d4d" text-anchor="middle">Jan 22</text>
<text x="332.5" y="418.9" font-family="Liberation Sans, sans-serif" font-size="12.3" fill="#4d4d4d" text-anchor="middle">Jul 22</text>
<path d="M42.3,395.5H46.5M42.3,342H46.5M42.3,288.5H46.5M94.8,402.4V406.6M154.6,402.4V406.6M213.8,402.4V406.6M273.6,402.4V406.6M332.8,402.4V406.6" stroke="#333" stroke-width="1.35" fill="none"/>
<clipPath id="c11"><rect x="382.5" y="239.3" width="299.9" height="163.1"/></clipPath>
<rect x="382.5" y="239.3" width="299.9" height="163.1" fill="#fff"/>
<path d="M382.5,371.49H682.4M382.5,322.87H682.4M382.5,274.25H682.4M400.8,239.3V402.4M460.7,239.3V402.4M520.2,239.3V402.4M579.7,239.3V402.4M639.2,239.3V402.4" stroke="#ebebeb" stroke-width="0.6" fill="none"/>
<path d="M382.5,395.8H682.4M382.5,347.18H682.4M382.5,298.56H682.4M382.5,249.94H682.4M430.8,239.3V402.4M490.6,239.3V402.4M549.8,239.3V402.4M609.6,239.3V402.4M668.8,239.3V402.4" stroke="#e6e6e6" stroke-width="1.1" fill="none"/>
<g clip-path="url(#c11)">
<path d="M397.7,394.01 398.03,389.55 398.35,396.1 398.68,393.08 399,387.97 399.33,395.37 399.66,395.53 399.98,395.33 400.31,392.81 400.63,389.69 400.96,388.97 401.29,387.89 401.61,394.31 401.94,392.58 402.26,394.12 402.59,383.99 402.92,393.84 403.24,394.54 403.57,386.9 403.89,387 404.22,386.64 404.55,386.63 404.87,389.09 405.2,387.77 405.52,387.8 405.85,386.57 406.18,388.42 406.5,387.41 406.83,390.84 407.15,385.4 407.48,381.74 407.81,382.51 408.13,389.43 408.46,386.29 408.78,394.31 409.11,388.81 409.44,381.79 409.76,379.41 410.09,385.5 410.42,386.78 410.74,384.76 411.07,379.23 411.39,390.49 411.72,389.65 412.05,381.13 412.37,380.41 412.7,377.52 413.02,376.42 413.35,379.82 413.68,381.83 414,371.84 414.33,375.32 414.65,368.36 414.98,371.27 415.31,370.24 415.63,365.25 415.96,358.48 416.28,345.96 416.61,340.56 416.94,342.9 417.26,340.12 417.59,335.97 417.91,328.88 418.24,333.77 418.57,331.93 418.89,329.37 419.22,319.28 419.54,310.52 419.87,303.2 420.2,314.79 420.52,304.64 420.85,304.57 421.17,292.98 421.5,295.37 421.83,288.92 422.15,295.12 422.48,285.33 422.8,285.23 423.13,274.63 423.46,285.71 423.78,272.19 424.11,270.52 424.43,269.11 424.76,288.3 425.09,286.45 425.41,276.83 425.74,274.05 426.06,280.36 426.39,287.4 426.72,290.9 427.04,303.64 427.37,308.82 427.69,282.58 428.02,288.56 428.35,301.14 428.67,314.4 429,301.04 429.32,295.75 429.65,316.52 429.98,301.13 430.3,308.2 430.63,314.41 430.95,319.33 431.28,320.55 431.61,320.67 431.93,323.98 432.26,317.45 432.58,319.34 432.91,327.82 433.24,332.15 433.56,321 433.89,327.18 434.22,328.23 434.54,330.03 434.87,335.06 435.19,338.53 435.52,331.89 435.85,340.64 436.17,349.05 436.5,343.65 436.82,351.35 437.15,343.78 437.48,345.38 437.8,339.4 438.13,342.32 438.45,346.9 438.78,339.59 439.11,343.02 439.43,348.24 439.76,348.88 440.08,355.48 440.41,354.17 440.74,359.85 441.06,360 441.39,346.49 441.71,349.59 442.04,357.18 442.37,359.88 442.69,356.44 443.02,366.99 443.34,360.26 443.67,356.93 444,355.11 444.32,362.14 444.65,369.54 444.97,360.65 445.3,360.9 445.63,366.66 445.95,364.38 446.28,352.8 446.6,353.77 446.93,368.7 447.26,364.2 447.58,358.69 447.91,363.52 448.23,359.46 448.56,360.34 448.89,357.03 449.21,361.07 449.54,363.56 449.86,360.53 450.19,368.91 450.52,360.68 450.84,362.45 451.17,364.91 451.49,364.43 451.82,363.61 452.15,366.91 452.47,367.48 452.8,366.5 453.12,362.08 453.45,370.63 453.78,369 454.1,370.99 454.43,376.11 454.75,366.65 455.08,361.46 455.41,363.59 455.73,368.04 456.06,365.99 456.38,362.96 456.71,370 457.04,368 457.36,364.54 457.69,364.64 458.02,369.95 458.34,370.99 458.67,364.11 458.99,369.32 459.32,373.98 459.65,366.86 459.97,358.72 460.3,365.29 460.62,367.58 460.95,363.06 461.28,373.66 461.6,379.46 461.93,373.04 462.25,361.21 462.58,370.41 462.91,362.08 463.23,365.74 463.56,367.3 463.88,372.24 464.21,363.29 464.54,363.2 464.86,366.59 465.19,365.34 465.51,362.78 465.84,370.45 466.17,372.76 466.49,367.77 466.82,365.75 467.14,367.95 467.47,359.6 467.8,370.38 468.12,369.56 468.45,373.51 468.77,368.11 469.1,369.69 469.43,358.62 469.75,374.01 470.08,369.29 470.4,377.6 470.73,361.73 471.06,364.33 471.38,368.15 471.71,374.48 472.03,374.57 472.36,375.51 472.69,375.4 473.01,367.64 473.34,366.32 473.66,369.12 473.99,367.66 474.32,369.15 474.64,366.53 474.97,365.96 475.29,373.86 475.62,375.5 475.95,372.21 476.27,374.61 476.6,376.28 476.92,381.62 477.25,379.27 477.58,379.74 477.9,379.03 478.23,375.38 478.55,371.23 478.88,370.18 479.21,374.19 479.53,374.62 479.86,377.9 480.18,370.7 480.51,374.98 480.84,372.3 481.16,373.12 481.49,376.12 481.82,373.09 482.14,373.59 482.47,368.97 482.79,367.46 483.12,369.18 483.45,376.43 483.77,380.14 484.1,377.85 484.42,376.25 484.75,371.18 485.08,373.46 485.4,373.86 485.73,374.16 486.05,369.07 486.38,374.61 486.71,370.81 487.03,368.71 487.36,366.14 487.68,359.9 488.01,367.74 488.34,373.39 488.66,371.03 488.99,379.29 489.31,363.85 489.64,369.91 489.97,366.08 490.29,371.62 490.62,358.45 490.94,366.75 491.27,364.64 491.6,367.91 491.92,369.56 492.25,359.79 492.57,363.13 492.9,366.04 493.23,361.74 493.55,368.19 493.88,354.54 494.2,362.35 494.53,363.93 494.86,368.45 495.18,360.18 495.51,360.87 495.83,351.23 496.16,350.87 496.49,350.83 496.81,350.49 497.14,350.23 497.46,360.03 497.79,353.11 498.12,345.71 498.44,349.72 498.77,346.86 499.09,347.22 499.42,347.36 499.75,355.19 500.07,351.71 500.4,352.27 500.72,347.69 501.05,344.35 501.38,347.78 501.7,349.58 502.03,349.8 502.35,352.67 502.68,351.36 503.01,345.58 503.33,340.11 503.66,351.82 503.98,352.36 504.31,357.37 504.64,351.25 504.96,360.48 505.29,348.92 505.62,356.92 505.94,357.11 506.27,351.17 506.59,353.89 506.92,352.91 507.25,366.34 507.57,359.06 507.9,358.01 508.22,351.87 508.55,353.24 508.88,353.52 509.2,360.96 509.53,356.5 509.85,345.13 510.18,350.13 510.51,357.17 510.83,347.54 511.16,352.13 511.48,352.21 511.81,356.84 512.14,347.96 512.46,354.35 512.79,340.97 513.11,346.81 513.44,343.71 513.77,348.44 514.09,348.72 514.42,343 514.74,345.63 515.07,339.05 515.4,344.11 515.72,348.74 516.05,348.41 516.37,350.37 516.7,340.95 517.03,342.65 517.35,344.39 517.68,341.64 518,344.47 518.33,341.37 518.66,339.42 518.98,334.54 519.31,326.37 519.63,349.26 519.96,338.25 520.29,347.28 520.61,331.15 520.94,346.59 521.26,325.12 521.59,336.27 521.92,328.64 522.24,328.42 522.57,318.7 522.89,329.09 523.22,323.37 523.55,324.61 523.87,328.66 524.2,321.45 524.52,330.74 524.85,332.61 525.18,339.43 525.5,337.12 525.83,329.37 526.15,337.13 526.48,332.67 526.81,327.67 527.13,340.88 527.46,338.28 527.78,330.58 528.11,332.97 528.44,333.72 528.76,332.6 529.09,336.3 529.42,339.77 529.74,333.26 530.07,343.4 530.39,335.58 530.72,335.38 531.05,326.28 531.37,340.17 531.7,336.88 532.02,348.25 532.35,354.79 532.68,340.42 533,335.09 533.33,331.19 533.65,340.9 533.98,323.48 534.31,338.42 534.63,334.97 534.96,323.4 535.28,334.93 535.61,331.78 535.94,329.24 536.26,327.32 536.59,320.54 536.91,330.81 537.24,325.01 537.57,326.81 537.89,330.32 538.22,327.12 538.54,323.57 538.87,334.41 539.2,327.55 539.52,310.67 539.85,318.07 540.17,313.81 540.5,321.52 540.83,326.88 541.15,320.98 541.48,332.09 541.8,319.97 542.13,322.77 542.46,324.7 542.78,323.36 543.11,323.14 543.43,324.56 543.76,334.13 544.09,321.5 544.41,307.55 544.74,318.79 545.06,318.02 545.39,321.17 545.72,320.74 546.04,328.16 546.37,312.6 546.69,301.38 547.02,325.14 547.35,318.95 547.67,317.06 548,324.77 548.32,320.73 548.65,320.34 548.98,312.88 549.3,329.3 549.63,311.95 549.95,320.63 550.28,331.81 550.61,327.91 550.93,329.91 551.26,328.76 551.58,325.93 551.91,333.39 552.24,336.43 552.56,338.82 552.89,345.8 553.22,332.52 553.54,333.29 553.87,337.82 554.19,346.26 554.52,341.04 554.85,348.35 555.17,349.33 555.5,344.89 555.82,342.88 556.15,351.81 556.48,343.34 556.8,343.81 557.13,340.1 557.45,352.41 557.78,347.73 558.11,346.32 558.43,358.9 558.76,355.48 559.08,350.42 559.41,351.24 559.74,354.16 560.06,347.39 560.39,354.72 560.71,361.37 561.04,356.99 561.37,368.25 561.69,368.88 562.02,371.06 562.34,359.16 562.67,365.64 563,373.23 563.32,366.91 563.65,372.95 563.97,369.12 564.3,370.9 564.63,371.82 564.95,374.16 565.28,372.35 565.6,379.5 565.93,375.6 566.26,375.26 566.58,377.84 566.91,373.59 567.23,376.51 567.56,373.63 567.89,381.98 568.21,379.31 568.54,377.13 568.86,377.29 569.19,375.08 569.52,387.24 569.84,377.7 570.17,379.94 570.49,380.18 570.82,381.9 571.15,381.04 571.47,386.94 571.8,382.67 572.12,383.27 572.45,378.23 572.78,386.51 573.1,388.56 573.43,383.79 573.75,387.1 574.08,383.7 574.41,383.93 574.73,384.77 575.06,388.93 575.38,393.03 575.71,387.47 576.04,385.55 576.36,388.05 576.69,388.1 577.02,385.3 577.34,387.38 577.67,392.47 577.99,394.04 578.32,392.73 578.65,387.24 578.97,381.82 579.3,389.58 579.62,386.52 579.95,393.28 580.28,388.75 580.6,391.88 580.93,394.97 581.25,383.01 581.58,388.27 581.91,391.01 582.23,393.43 582.56,394.25 582.88,385.21 583.21,389.37 583.54,393.91 583.86,392.32 584.19,394.07 584.51,393.73 584.84,393.2 585.17,388.74 585.49,391.1 585.82,383.3 586.14,386.6 586.47,384.84 586.8,383.49 587.12,387.21 587.45,381.93 587.77,387.59 588.1,388.81 588.43,386.47 588.75,387.07 589.08,387.27 589.4,389.46 589.73,380.92 590.06,383.39 590.38,387.2 590.71,381.99 591.03,387.84 591.36,386.44 591.69,384.91 592.01,378.01 592.34,387.73 592.66,383.44 592.99,378.84 593.32,379.3 593.64,382.84 593.97,382.39 594.29,383.76 594.62,384.96 594.95,379.62 595.27,378.61 595.6,379.52 595.92,386.79 596.25,380.04 596.58,383.66 596.9,379.18 597.23,382.81 597.55,379.9 597.88,382.57 598.21,379.76 598.53,387.52 598.86,373.25 599.18,380.27 599.51,372.96 599.84,382.27 600.16,376.7 600.49,385.06 600.82,388.42 601.14,381.33 601.47,385.03 601.79,382 602.12,387.77 602.45,378.36 602.77,385.13 603.1,389.99 603.42,376.94 603.75,383.99 604.08,381.24 604.4,381.62 604.73,380.67 605.05,386.14 605.38,383.38 605.71,378.47 606.03,380.11 606.36,384.02 606.68,388.75 607.01,383.97 607.34,385.11 607.66,390.18 607.99,379.21 608.31,383.8 608.64,383.94 608.97,384.95 609.29,393.42 609.62,392.93 609.94,387.38 610.27,381.87 610.6,386.13 610.92,389.95 611.25,382.69 611.57,389.25 611.9,390.73 612.23,385.48 612.55,384.31 612.88,382.67 613.2,390.83 613.53,386.66 613.86,381.5 614.18,388.88 614.51,396.1 614.83,384.46 615.16,382.9 615.49,390.96 615.81,385.51 616.14,382.86 616.46,377.22 616.79,382.28 617.12,375.13 617.44,379.03 617.77,367.27 618.09,372.4 618.42,370.68 618.75,372.58 619.07,365.48 619.4,355.61 619.72,365.97 620.05,364.64 620.38,348.38 620.7,358.66 621.03,356.17 621.35,350.71 621.68,344.08 622.01,335.49 622.33,342.29 622.66,331.27 622.98,338.63 623.31,346.06 623.64,339.38 623.96,335.47 624.29,325.91 624.62,324.36 624.94,329.87 625.27,334.79 625.59,333.45 625.92,341.82 626.25,330.01 626.57,323.26 626.9,327.9 627.22,330.44 627.55,336.68 627.88,331.8 628.2,336.09 628.53,332.23 628.85,322.39 629.18,334.66 629.51,334.41 629.83,329.28 630.16,342.1 630.48,347.75 630.81,336.56 631.14,342.61 631.46,341.59 631.79,353.49 632.11,348.72 632.44,350.87 632.77,363.73 633.09,344.99 633.42,352.48 633.74,352.22 634.07,354.12 634.4,355.88 634.72,360.5 635.05,362.63 635.37,353.57 635.7,359.96 636.03,365.8 636.35,359.09 636.68,368.17 637,361.65 637.33,369.33 637.66,368.15 637.98,367.13 638.31,370.64 638.63,367.9 638.96,376.46 639.29,379.5 639.61,377.47 639.94,372.92 640.26,374.26 640.59,375.59 640.92,377.44 641.24,385.48 641.57,380 641.89,376.68 642.22,380.71 642.55,379.89 642.87,379.06 643.2,386.5 643.52,379.02 643.85,384.52 644.18,388.18 644.5,379.41 644.83,384.46 645.15,386.29 645.48,383.39 645.81,392.25 646.13,390.54 646.46,391.28 646.78,385.2 647.11,387.85 647.44,385.69 647.76,389.9 648.09,393.17 648.42,394.51 648.74,391.15 649.07,385.77 649.39,392.37 649.72,389.92 650.05,390.39 650.37,387.13 650.7,389.6 651.02,392.65 651.35,389.38 651.68,390.49 652,391.83 652.33,386.82 652.65,379.57 652.98,391.25 653.31,396.1 653.63,388.16 653.96,395.21 654.28,389.05 654.61,387.97 654.94,392.45 655.26,392.3 655.59,391.23 655.91,384.14 656.24,388.62 656.57,381.89 656.89,394.75 657.22,390.03 657.54,394.36 657.87,395.69 658.2,381.93 658.52,386.58 658.85,391.98 659.17,386.2 659.5,384.89 659.83,385.19 660.15,390.38 660.48,382.07 660.8,386.36 661.13,382.55 661.46,382.61 661.78,385.76 662.11,384.74 662.43,394.04 662.76,375.73 663.09,381.5 663.41,381.69 663.74,385.28 664.06,378.69 664.39,384.97 664.72,388.62 665.04,375.74 665.37,382.72 665.69,380.61 666.02,375.12 666.35,386.07 666.67,381.95 667,385.94 667.32,380.75 667.65,387.33 667.98,375.39 668.3,377.27" stroke="#999" stroke-opacity="0.6" stroke-width="1.1" fill="none" stroke-linejoin="round"/>
<path d="M397.7,394.68 398.03,394.2 398.35,393.6 398.68,393.3 399,393.19 399.33,393.23 399.66,392.57 399.98,392.09 400.31,391.89 400.63,391.64 400.96,391.25 401.29,390.99 401.61,390.2 401.94,390.36 402.26,390.64 402.59,390.47 402.92,389.87 403.24,389.38 403.57,388.78 403.89,389.1 404.22,388.62 404.55,388.09 404.87,388.01 405.2,388.04 405.52,388.02 405.85,388.23 406.18,387.87 406.5,387.35 406.83,386.91 407.15,387.06 407.48,386.85 407.81,387.29 408.13,387.09 408.46,386.77 408.78,386.54 409.11,386.68 409.44,386.41 409.76,386.21 410.09,385.03 410.42,385.02 410.74,385.45 411.07,385.39 411.39,384.79 411.72,383.83 412.05,382.86 412.37,382.45 412.7,381.23 413.02,379.19 413.35,377.81 413.68,375.84 414,374.27 414.33,372.81 414.65,370.7 414.98,367.81 415.31,364.56 415.63,360.53 415.96,357.06 416.28,353.15 416.61,348.99 416.94,344.56 417.26,340.89 417.59,337.94 417.91,335.17 418.24,331.49 418.57,327.38 418.89,323.06 419.22,320.12 419.54,316.04 419.87,311.93 420.2,307.09 420.52,303.12 420.85,299.39 421.17,296.82 421.5,293.02 421.83,290.18 422.15,286.77 422.48,285.12 422.8,282.45 423.13,280.2 423.46,277.42 423.78,276.76 424.11,276.18 424.43,276.01 424.76,275.32 425.09,276.71 425.41,279.27 425.74,282.35 426.06,284.86 426.39,288.43 426.72,291.18 427.04,294.05 427.37,296.73 427.69,299.48 428.02,300.95 428.35,301.1 428.67,302.37 429,304.4 429.32,306.51 429.65,308.18 429.98,309.29 430.3,311.5 430.63,314.1 430.95,315.45 431.28,317.43 431.61,319.04 431.93,320.82 432.26,322.55 432.58,323.4 432.91,324.68 433.24,325.78 433.56,327.47 433.89,329.45 434.22,331.17 434.54,332.16 434.87,334.57 435.19,337.06 435.52,338.97 435.85,341.18 436.17,342.39 436.5,343.39 436.82,344.37 437.15,344.9 437.48,345.13 437.8,345.21 438.13,344.97 438.45,345.63 438.78,346.21 439.11,347.69 439.43,348.86 439.76,350.12 440.08,351.91 440.41,352.51 440.74,352.97 441.06,353.92 441.39,354.58 441.71,355.1 442.04,355.95 442.37,356.31 442.69,357.4 443.02,358.12 443.34,358.79 443.67,359.79 444,360.38 444.32,360.23 444.65,360.94 444.97,361.68 445.3,361.64 445.63,361.06 445.95,360.96 446.28,361.19 446.6,361.05 446.93,360.91 447.26,360.67 447.58,361.34 447.91,361.7 448.23,361.3 448.56,361.39 448.89,361.66 449.21,362.19 449.54,362.42 449.86,362.7 450.19,363.4 450.52,363.77 450.84,363.9 451.17,364.48 451.49,364.49 451.82,365.01 452.15,365.09 452.47,365.58 452.8,365.99 453.12,366.59 453.45,367.31 453.78,367.31 454.1,367 454.43,367.16 454.75,367.03 455.08,366.86 455.41,366.33 455.73,365.93 456.06,366.06 456.38,366.32 456.71,366.43 457.04,366.6 457.36,367 457.69,367.11 458.02,367.1 458.34,367.56 458.67,367.76 458.99,367.38 459.32,367.08 459.65,366.88 459.97,366.85 460.3,367.2 460.62,367.63 460.95,368.11 461.28,368.33 461.6,368.73 461.93,368.37 462.25,368.6 462.58,368.18 462.91,367.7 463.23,367.04 463.56,367.22 463.88,366.98 464.21,367.25 464.54,367.08 464.86,367.34 465.19,367.42 465.51,367.78 465.84,368 466.17,368.14 466.49,367.77 466.82,368.36 467.14,368.34 467.47,368.44 467.8,368.5 468.12,368.83 468.45,368.21 468.77,369.28 469.1,369.25 469.43,369.86 469.75,369.07 470.08,368.84 470.4,368.78 470.73,369.96 471.06,370.05 471.38,370.54 471.71,370.44 472.03,370.91 472.36,371.1 472.69,371.22 473.01,370.79 473.34,370.45 473.66,369.87 473.99,369.27 474.32,369.79 474.64,370.54 474.97,370.85 475.29,371.45 475.62,372.07 475.95,373.24 476.27,374.28 476.6,374.77 476.92,375.08 477.25,375.35 477.58,375.13 477.9,374.72 478.23,374.21 478.55,373.9 478.88,373.79 479.21,373.21 479.53,373.19 479.86,373.27 480.18,373.48 480.51,373.62 480.84,373.51 481.16,373.19 481.49,373.06 481.82,372.5 482.14,372.26 482.47,372.47 482.79,372.72 483.12,373.02 483.45,373.16 483.77,373.27 484.1,373.65 484.42,373.93 484.75,373.71 485.08,372.86 485.4,372.56 485.73,372.1 486.05,371.84 486.38,371.23 486.71,370.13 487.03,369.57 487.36,369.76 487.68,369.38 488.01,369.84 488.34,369.32 488.66,369.34 488.99,369.48 489.31,369.4 489.64,367.92 489.97,367.18 490.29,365.69 490.62,365.58 490.94,365.24 491.27,364.55 491.6,363.77 491.92,364.19 492.25,363.73 492.57,363.89 492.9,362.84 493.23,362.22 493.55,362.38 493.88,362.57 494.2,361.89 494.53,361.5 494.86,359.91 495.18,359.22 495.51,357.96 495.83,356.56 496.16,354.82 496.49,354.39 496.81,353.45 497.14,352.74 497.46,352.39 497.79,351.87 498.12,351.41 498.44,351 498.77,350.47 499.09,350.2 499.42,350.51 499.75,350.23 500.07,349.92 500.4,349.85 500.72,349.89 501.05,349.4 501.38,349.38 501.7,349.26 502.03,349.06 502.35,348.75 502.68,349.06 503.01,349.33 503.33,350.08 503.66,350.36 503.98,351.5 504.31,352.21 504.64,353.79 504.96,354.41 505.29,354.44 505.62,354.22 505.94,354.37 506.27,354.81 506.59,355.55 506.92,355.62 507.25,355.23 507.57,355.34 507.9,355.26 508.22,355.76 508.55,354.97 508.88,353.87 509.2,353.15 509.53,353.32 509.85,352.64 510.18,352.21 510.51,351.22 510.83,350.88 511.16,350.71 511.48,350.65 511.81,349.16 512.14,348.83 512.46,347.99 512.79,347.52 513.11,346.76 513.44,346.24 513.77,345.46 514.09,345.17 514.42,344.83 514.74,345.04 515.07,344.89 515.4,344.85 515.72,344.53 516.05,344.12 516.37,344.29 516.7,343.88 517.03,343.33 517.35,342.6 517.68,341.59 518,340.89 518.33,339.48 518.66,339.58 518.98,339.07 519.31,338.99 519.63,337.96 519.96,338.17 520.29,337.18 520.61,337.56 520.94,335.6 521.26,334.19 521.59,331.24 521.92,330.01 522.24,327.24 522.57,326.22 522.89,325 523.22,324.19 523.55,324.55 523.87,326.18 524.2,327.87 524.52,329.93 524.85,331.25 525.18,332.62 525.5,333.9 525.83,333.91 526.15,334.65 526.48,334.69 526.81,334.34 527.13,334.69 527.46,334.53 527.78,334.6 528.11,335.27 528.44,335.25 528.76,334.95 529.09,335.93 529.42,336.18 529.74,336.38 530.07,336.05 530.39,336.48 530.72,336.46 531.05,337.72 531.37,338.72 531.7,339.24 532.02,339.37 532.35,339.83 532.68,339.94 533,338.97 533.33,338.18 533.65,336.56 533.98,335.03 534.31,334.63 534.63,334.21 534.96,332.87 535.28,332.6 535.61,330.74 535.94,329.85 536.26,329.39 536.59,328.28 536.91,327.72 537.24,327.01 537.57,325.98 537.89,326.09 538.22,325.08 538.54,323.53 538.87,322.64 539.2,321.4 539.52,321.05 539.85,321.41 540.17,320.62 540.5,321.11 540.83,321.95 541.15,322.44 541.48,323.33 541.8,323.49 542.13,323.18 542.46,323.35 542.78,323.38 543.11,323.36 543.43,322.13 543.76,321.56 544.09,321.03 544.41,320.75 544.74,320.36 545.06,319.84 545.39,319.1 545.72,318.53 546.04,318.83 546.37,318.75 546.69,318.31 547.02,318.47 547.35,317.83 547.67,318.34 548,319.18 548.32,319.6 548.65,319.28 548.98,319.83 549.3,320.76 549.63,321.8 549.95,323.07 550.28,324.96 550.61,325.81 550.93,328.61 551.26,331 551.58,332.6 551.91,334.73 552.24,335.52 552.56,336.37 552.89,337.71 553.22,339.1 553.54,339.85 553.87,340.92 554.19,341.55 554.52,342.79 554.85,343.82 555.17,345.16 555.5,345.24 555.82,345.67 556.15,345.27 556.48,345.68 556.8,346.05 557.13,346.47 557.45,347.16 557.78,348.21 558.11,348.88 558.43,349.89 558.76,350.25 559.08,350.52 559.41,351.51 559.74,352.28 560.06,353.25 560.39,355.74 560.71,358.39 561.04,360.77 561.37,362.44 561.69,364.22 562.02,366.22 562.34,368.06 562.67,369.34 563,370.09 563.32,370.58 563.65,371.76 563.97,372.52 564.3,372.5 564.63,373.42 564.95,373.62 565.28,374.07 565.6,374.62 565.93,374.86 566.26,375.2 566.58,375.53 566.91,375.97 567.23,376.5 567.56,376.91 567.89,377.15 568.21,377.53 568.54,378.58 568.86,379.15 569.19,379.28 569.52,379.62 569.84,380.22 570.17,380.75 570.49,381.82 570.82,381.7 571.15,382.26 571.47,382.28 571.8,382.85 572.12,383.44 572.45,383.75 572.78,383.91 573.1,384.15 573.43,384.4 573.75,385.1 574.08,385.53 574.41,386.11 574.73,386.65 575.06,386.82 575.38,387.41 575.71,387.98 576.04,388.29 576.36,388.44 576.69,388.65 577.02,389.34 577.34,390.05 577.67,390.15 577.99,389.8 578.32,390.18 578.65,390.13 578.97,390.16 579.3,389.74 579.62,389.61 579.95,390.1 580.28,390.14 580.6,390.04 580.93,390.37 581.25,390.39 581.58,390.79 581.91,390.32 582.23,389.91 582.56,390.66 582.88,390.91 583.21,391.07 583.54,391.02 583.86,390.85 584.19,390.99 584.51,390.99 584.84,390.1 585.17,389.56 585.49,388.76 585.82,387.89 586.14,387.32 586.47,386.69 586.8,386.3 587.12,386.56 587.45,386.42 587.77,386.46 588.1,386.62 588.43,386.67 588.75,386.5 589.08,386.1 589.4,385.89 589.73,385.48 590.06,385.44 590.38,385.29 590.71,384.87 591.03,384.57 591.36,384.79 591.69,384.42 592.01,384.1 592.34,383.38 592.66,383.01 592.99,382.71 593.32,382.99 593.64,382.66 593.97,382.25 594.29,382.1 594.62,381.97 594.95,382.12 595.27,381.83 595.6,381.72 595.92,381.2 596.25,381.32 596.58,381.3 596.9,381.41 597.23,380.83 597.55,381.3 597.88,380.52 598.21,380.57 598.53,379.86 598.86,380.01 599.18,379.58 599.51,379.96 599.84,380.02 600.16,380.6 600.49,380.94 600.82,381.6 601.14,382 601.47,382.14 601.79,382.17 602.12,382.32 602.45,382.05 602.77,382.04 603.1,382.06 603.42,381.71 603.75,381.97 604.08,382.16 604.4,381.81 604.73,382.05 605.05,381.92 605.38,382.26 605.71,382.92 606.03,383.29 606.36,383.37 606.68,384.1 607.01,384.48 607.34,385.11 607.66,385.44 607.99,385.42 608.31,386.24 608.64,386.88 608.97,386.71 609.29,386.91 609.62,387.08 609.94,387.5 610.27,387.32 610.6,386.99 610.92,386.8 611.25,386.62 611.57,386.74 611.9,386.43 612.23,386.42 612.55,386.62 612.88,385.96 613.2,385.72 613.53,386.38 613.86,386.3 614.18,386.22 614.51,386.13 614.83,385.93 615.16,385.88 615.49,384.85 615.81,383.62 616.14,382.64 616.46,381.97 616.79,379.73 617.12,378.08 617.44,376.33 617.77,374.95 618.09,372.58 618.42,369.96 618.75,367.84 619.07,366.58 619.4,363.77 619.72,361.68 620.05,359.21 620.38,356.82 620.7,354.68 621.03,351.24 621.35,348.47 621.68,346.12 622.01,343.56 622.33,341.71 622.66,339.79 622.98,338.11 623.31,336.44 623.64,334.24 623.96,333.29 624.29,332.31 624.62,330.91 624.94,330.75 625.27,330.2 625.59,330.02 625.92,330.38 626.25,330.56 626.57,330.82 626.9,330.75 627.22,330.33 627.55,330.5 627.88,330.52 628.2,331.21 628.53,331.87 628.85,331.92 629.18,333.41 629.51,335.09 629.83,336.28 630.16,338.56 630.48,339.81 630.81,341.88 631.14,344 631.46,345.39 631.79,347.3 632.11,348.66 632.44,350.12 632.77,351.61 633.09,352.37 633.42,353.57 633.74,354.9 634.07,355.44 634.4,356.67 634.72,357.8 635.05,359.35 635.37,360.27 635.7,361.7 636.03,362.32 636.35,363.33 636.68,364.89 637,365.92 637.33,366.76 637.66,367.9 637.98,368.99 638.31,370.77 638.63,371.85 638.96,372.68 639.29,373.67 639.61,374.49 639.94,375.63 640.26,376.72 640.59,377.19 640.92,377.54 641.24,378.49 641.57,379.26 641.89,379.86 642.22,380.83 642.55,380.69 642.87,381.3 643.2,382.4 643.52,382.58 643.85,383.15 644.18,383.9 644.5,383.91 644.83,385.07 645.15,385.7 645.48,386.12 645.81,386.73 646.13,387.16 646.46,387.3 646.78,387.94 647.11,388.18 647.44,388.63 647.76,388.78 648.09,388.97 648.42,389.43 648.74,389.87 649.07,390.03 649.39,389.72 649.72,389.48 650.05,389.69 650.37,390.03 650.7,389.98 651.02,390.18 651.35,389.98 651.68,389.47 652,389.62 652.33,389.89 652.65,389.81 652.98,390.14 653.31,389.94 653.63,390 653.96,390.9 654.28,390.94 654.61,390.55 654.94,390.22 655.26,389.7 655.59,389.13 655.91,389.55 656.24,389.31 656.57,389.38 656.89,389.59 657.22,389.31 657.54,389.02 657.87,389.58 658.2,388.81 658.52,388.26 658.85,387.43 659.17,386.87 659.5,386.71 659.83,386.53 660.15,385.7 660.48,385.32 660.8,385.27 661.13,385.13 661.46,385.28 661.78,384.73 662.11,384.28 662.43,384.12 662.76,384.21 663.09,383.62 663.41,383.54 663.74,383.07 664.06,382.98 664.39,382.98 664.72,382.81 665.04,381.99 665.37,382.43 665.69,382.14 666.02,381.86 666.35,382.14 666.67,382.4 667,381.95 667.32,382.03 667.65,381.72 667.98,381.47 668.3,381.35" stroke="#262626" stroke-width="1.7" fill="none" stroke-linejoin="round" stroke-linecap="round"/>
</g>
<rect x="396.3" y="239.3" width="108.9" height="163.1" fill="#66C2A5" fill-opacity="0.17"/>
<rect x="505.2" y="239.3" width="60" height="163.1" fill="#F3A166" fill-opacity="0.17"/>
<rect x="565.2" y="239.3" width="44.5" height="163.1" fill="#8DA0CB" fill-opacity="0.17"/>
<rect x="609.7" y="239.3" width="59.1" height="163.1" fill="#E78AC3" fill-opacity="0.17"/>
<path d="M488.9,243.9V402.4" stroke="#111" stroke-width="1.8" stroke-dasharray="1.7 4.37" fill="none"/>
<path d="M489.9,255.9H667.3" stroke="#000" stroke-width="1.7" fill="none"/>
<path d="M669.8,255.9l-2.8,-1.6v3.2z" fill="#000" stroke="#000" stroke-width="0.4" stroke-linejoin="round"/>
<path d="M488.1,255.9l2.8,-1.6v3.2z" fill="#000" stroke="#000" stroke-width="0.4" stroke-linejoin="round"/>
<text x="574.6" y="250.6" font-family="Liberation Sans, sans-serif" font-size="10" font-weight="bold" fill="#000" text-anchor="middle">Period of study</text>
<rect x="382.5" y="239.3" width="299.9" height="163.1" fill="none" stroke="#5c5c5c" stroke-width="1.25" stroke-linejoin="round"/>
<path d="M382.5,239.3V402.4H680.4" fill="none" stroke="#474747" stroke-width="1.2"/>
<rect x="382.5" y="215.4" width="299.9" height="23.9" fill="#fff" stroke="#333" stroke-width="1.2" stroke-linejoin="round"/>
<text x="532.45" y="232.1" font-family="Liberation Sans, sans-serif" font-size="12.3" font-weight="bold" fill="#1a1a1a" text-anchor="middle">Deaths</text>
<text x="375" y="400.6" font-family="Liberation Sans, sans-serif" font-size="12.3" fill="#4d4d4d" text-anchor="end">0</text>
<text x="375" y="351.98" font-family="Liberation Sans, sans-serif" font-size="12.3" fill="#4d4d4d" text-anchor="end">100</text>
<text x="375" y="303.36" font-family="Liberation Sans, sans-serif" font-size="12.3" fill="#4d4d4d" text-anchor="end">200</text>
<text x="375" y="254.74" font-family="Liberation Sans, sans-serif" font-size="12.3" fill="#4d4d4d" text-anchor="end">300</text>
<text x="430.5" y="418.9" font-family="Liberation Sans, sans-serif" font-size="12.3" fill="#4d4d4d" text-anchor="middle">Jul 20</text>
<text x="490.3" y="418.9" font-family="Liberation Sans, sans-serif" font-size="12.3" fill="#4d4d4d" text-anchor="middle">Jan 21</text>
<text x="549.5" y="418.9" font-family="Liberation Sans, sans-serif" font-size="12.3" fill="#4d4d4d" text-anchor="middle">Jul 21</text>
<text x="609.3" y="418.9" font-family="Liberation Sans, sans-serif" font-size="12.3" fill="#4d4d4d" text-anchor="middle">Jan 22</text>
<text x="668.5" y="418.9" font-family="Liberation Sans, sans-serif" font-size="12.3" fill="#4d4d4d" text-anchor="middle">Jul 22</text>
<path d="M378.3,395.8H382.5M378.3,347.18H382.5M378.3,298.56H382.5M378.3,249.94H382.5M430.8,402.4V406.6M490.6,402.4V406.6M549.8,402.4V406.6M609.6,402.4V406.6M668.8,402.4V406.6" stroke="#333" stroke-width="1.35" fill="none"/>
<text x="364.6" y="436.4" font-family="Liberation Sans, sans-serif" font-size="15.2" fill="#000" text-anchor="middle">Days</text>
<text x="67" y="481.3" font-family="Liberation Sans, sans-serif" font-size="15.4" fill="#000">Variants</text>
<rect x="131.2" y="464.4" width="22.8" height="23" fill="#66C2A5" fill-opacity="0.17"/>
<rect x="248.8" y="464.4" width="22.8" height="23" fill="#F3A166" fill-opacity="0.17"/>
<rect x="333.8" y="464.4" width="22.8" height="23" fill="#8DA0CB" fill-opacity="0.17"/>
<rect x="402.8" y="464.4" width="22.8" height="23" fill="#E78AC3" fill-opacity="0.17"/>
<text x="163.1" y="480.6" font-family="Liberation Sans, sans-serif" font-size="12.4" fill="#1a1a1a">Original strain</text>
<text x="280.1" y="473.7" font-family="Liberation Sans, sans-serif" font-size="12.4" fill="#1a1a1a">Gamma</text>
<text x="280.1" y="487.4" font-family="Liberation Sans, sans-serif" font-size="12.4" fill="#1a1a1a">Lambda</text>
<text x="366" y="480.6" font-family="Liberation Sans, sans-serif" font-size="12.4" fill="#1a1a1a">Delta</text>
<text x="434.2" y="480.6" font-family="Liberation Sans, sans-serif" font-size="12.4" fill="#1a1a1a">Omicron</text>
<path d="M532.8,463.4V489" stroke="#111" stroke-width="1.8" stroke-dasharray="1.7 4.2" fill="none"/>
<text x="552.6" y="473.7" font-family="Liberation Sans, sans-serif" font-size="12.45" fill="#1a1a1a">Start of vaccination</text>
<text x="552.8" y="487.2" font-family="Liberation Sans, sans-serif" font-size="12.4" fill="#1a1a1a">campaign</text>
</svg>
</body></html>
